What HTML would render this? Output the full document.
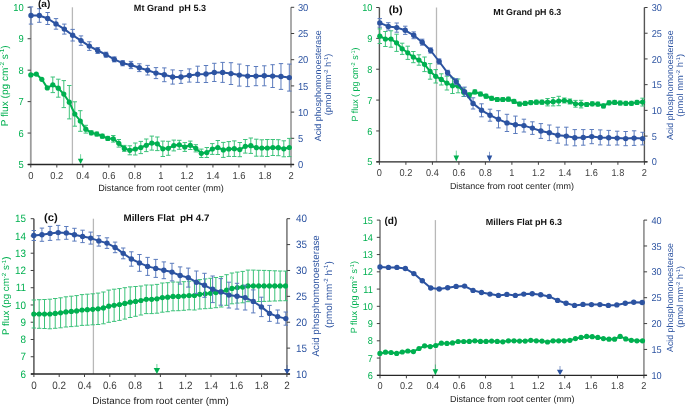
<!DOCTYPE html>
<html><head><meta charset="utf-8"><title>Figure</title>
<style>
html,body{margin:0;padding:0;background:#fff;}
body{width:685px;height:406px;overflow:hidden;}
svg{display:block;font-family:"Liberation Sans", sans-serif;text-rendering:geometricPrecision;will-change:transform;filter:blur(0.35px);}
</style></head>
<body>
<svg width="685" height="406" viewBox="0 0 685 406">
<rect width="685" height="406" fill="#fff"/>
<g id="pa">
<line x1="72.4" y1="7.3" x2="72.4" y2="164.5" stroke="#b8b8b8" stroke-width="1.3"/>
<line x1="30.8" y1="7.3" x2="30.8" y2="164.5" stroke="#9c9c9c" stroke-width="1.8"/>
<line x1="291" y1="7.3" x2="291" y2="164.5" stroke="#a2a2a2" stroke-width="1.8"/>
<line x1="27.6" y1="164.5" x2="30.8" y2="164.5" stroke="#404040" stroke-width="1"/>
<text transform="translate(23.8,168.1) scale(1,1.08)" text-anchor="end" font-size="9.4" fill="#00B050">5</text>
<line x1="27.6" y1="133.06" x2="30.8" y2="133.06" stroke="#404040" stroke-width="1"/>
<text transform="translate(23.8,136.66) scale(1,1.08)" text-anchor="end" font-size="9.4" fill="#00B050">6</text>
<line x1="27.6" y1="101.62" x2="30.8" y2="101.62" stroke="#404040" stroke-width="1"/>
<text transform="translate(23.8,105.22) scale(1,1.08)" text-anchor="end" font-size="9.4" fill="#00B050">7</text>
<line x1="27.6" y1="70.18" x2="30.8" y2="70.18" stroke="#404040" stroke-width="1"/>
<text transform="translate(23.8,73.78) scale(1,1.08)" text-anchor="end" font-size="9.4" fill="#00B050">8</text>
<line x1="27.6" y1="38.74" x2="30.8" y2="38.74" stroke="#404040" stroke-width="1"/>
<text transform="translate(23.8,42.34) scale(1,1.08)" text-anchor="end" font-size="9.4" fill="#00B050">9</text>
<line x1="27.6" y1="7.3" x2="30.8" y2="7.3" stroke="#404040" stroke-width="1"/>
<text transform="translate(23.8,10.9) scale(1,1.08)" text-anchor="end" font-size="9.4" fill="#00B050">10</text>
<line x1="291" y1="164.5" x2="294.2" y2="164.5" stroke="#404040" stroke-width="1"/>
<text transform="translate(297.9,168.1) scale(1,1.08)" font-size="9.4" fill="#2C53A1">0</text>
<line x1="291" y1="138.3" x2="294.2" y2="138.3" stroke="#404040" stroke-width="1"/>
<text transform="translate(297.9,141.9) scale(1,1.08)" font-size="9.4" fill="#2C53A1">5</text>
<line x1="291" y1="112.1" x2="294.2" y2="112.1" stroke="#404040" stroke-width="1"/>
<text transform="translate(297.9,115.7) scale(1,1.08)" font-size="9.4" fill="#2C53A1">10</text>
<line x1="291" y1="85.9" x2="294.2" y2="85.9" stroke="#404040" stroke-width="1"/>
<text transform="translate(297.9,89.5) scale(1,1.08)" font-size="9.4" fill="#2C53A1">15</text>
<line x1="291" y1="59.7" x2="294.2" y2="59.7" stroke="#404040" stroke-width="1"/>
<text transform="translate(297.9,63.3) scale(1,1.08)" font-size="9.4" fill="#2C53A1">20</text>
<line x1="291" y1="33.5" x2="294.2" y2="33.5" stroke="#404040" stroke-width="1"/>
<text transform="translate(297.9,37.1) scale(1,1.08)" font-size="9.4" fill="#2C53A1">25</text>
<line x1="291" y1="7.3" x2="294.2" y2="7.3" stroke="#404040" stroke-width="1"/>
<text transform="translate(297.9,10.9) scale(1,1.08)" font-size="9.4" fill="#2C53A1">30</text>
<line x1="27.8" y1="164.5" x2="294" y2="164.5" stroke="#262626" stroke-width="1.3"/>
<line x1="30.8" y1="164.5" x2="30.8" y2="167.5" stroke="#404040" stroke-width="1"/>
<text transform="translate(30.8,178.8) scale(1,1.08)" text-anchor="middle" font-size="9.4" fill="#3c3c3c">0</text>
<line x1="56.82" y1="164.5" x2="56.82" y2="167.5" stroke="#404040" stroke-width="1"/>
<text transform="translate(56.82,178.8) scale(1,1.08)" text-anchor="middle" font-size="9.4" fill="#3c3c3c">0.2</text>
<line x1="82.84" y1="164.5" x2="82.84" y2="167.5" stroke="#404040" stroke-width="1"/>
<text transform="translate(82.84,178.8) scale(1,1.08)" text-anchor="middle" font-size="9.4" fill="#3c3c3c">0.4</text>
<line x1="108.86" y1="164.5" x2="108.86" y2="167.5" stroke="#404040" stroke-width="1"/>
<text transform="translate(108.86,178.8) scale(1,1.08)" text-anchor="middle" font-size="9.4" fill="#3c3c3c">0.6</text>
<line x1="134.88" y1="164.5" x2="134.88" y2="167.5" stroke="#404040" stroke-width="1"/>
<text transform="translate(134.88,178.8) scale(1,1.08)" text-anchor="middle" font-size="9.4" fill="#3c3c3c">0.8</text>
<line x1="160.9" y1="164.5" x2="160.9" y2="167.5" stroke="#404040" stroke-width="1"/>
<text transform="translate(160.9,178.8) scale(1,1.08)" text-anchor="middle" font-size="9.4" fill="#3c3c3c">1</text>
<line x1="186.92" y1="164.5" x2="186.92" y2="167.5" stroke="#404040" stroke-width="1"/>
<text transform="translate(186.92,178.8) scale(1,1.08)" text-anchor="middle" font-size="9.4" fill="#3c3c3c">1.2</text>
<line x1="212.94" y1="164.5" x2="212.94" y2="167.5" stroke="#404040" stroke-width="1"/>
<text transform="translate(212.94,178.8) scale(1,1.08)" text-anchor="middle" font-size="9.4" fill="#3c3c3c">1.4</text>
<line x1="238.96" y1="164.5" x2="238.96" y2="167.5" stroke="#404040" stroke-width="1"/>
<text transform="translate(238.96,178.8) scale(1,1.08)" text-anchor="middle" font-size="9.4" fill="#3c3c3c">1.6</text>
<line x1="264.98" y1="164.5" x2="264.98" y2="167.5" stroke="#404040" stroke-width="1"/>
<text transform="translate(264.98,178.8) scale(1,1.08)" text-anchor="middle" font-size="9.4" fill="#3c3c3c">1.8</text>
<line x1="291" y1="164.5" x2="291" y2="167.5" stroke="#404040" stroke-width="1"/>
<text transform="translate(291,178.8) scale(1,1.08)" text-anchor="middle" font-size="9.4" fill="#3c3c3c">2</text>
<path d="M52.8 77V92.6M50.6 77H55M50.6 92.6H55" stroke="#3cc27a" stroke-width="1" fill="none"/>
<path d="M58.3 79.2V97.2M56.1 79.2H60.5M56.1 97.2H60.5" stroke="#3cc27a" stroke-width="1" fill="none"/>
<path d="M63.8 80.6V107.6M61.6 80.6H66M61.6 107.6H66" stroke="#3cc27a" stroke-width="1" fill="none"/>
<path d="M69.3 85.5V118.9M67.1 85.5H71.5M67.1 118.9H71.5" stroke="#3cc27a" stroke-width="1" fill="none"/>
<path d="M74.8 101.8V126.2M72.6 101.8H77M72.6 126.2H77" stroke="#3cc27a" stroke-width="1" fill="none"/>
<path d="M80.3 110.7V131.3M78.1 110.7H82.5M78.1 131.3H82.5" stroke="#3cc27a" stroke-width="1" fill="none"/>
<path d="M85.8 125.3V133.1M83.6 125.3H88M83.6 133.1H88" stroke="#3cc27a" stroke-width="1" fill="none"/>
<path d="M91.3 130.8V134.8M89.1 130.8H93.5M89.1 134.8H93.5" stroke="#3cc27a" stroke-width="1" fill="none"/>
<path d="M96.8 132V136M94.6 132H99M94.6 136H99" stroke="#3cc27a" stroke-width="1" fill="none"/>
<path d="M102.3 134.2V138.2M100.1 134.2H104.5M100.1 138.2H104.5" stroke="#3cc27a" stroke-width="1" fill="none"/>
<path d="M107.8 136.4V140.4M105.6 136.4H110M105.6 140.4H110" stroke="#3cc27a" stroke-width="1" fill="none"/>
<path d="M113.3 135.5V142.1M111.1 135.5H115.5M111.1 142.1H115.5" stroke="#3cc27a" stroke-width="1" fill="none"/>
<path d="M118.8 139.5V147.1M116.6 139.5H121M116.6 147.1H121" stroke="#3cc27a" stroke-width="1" fill="none"/>
<path d="M124.3 145.4V151.4M122.1 145.4H126.5M122.1 151.4H126.5" stroke="#3cc27a" stroke-width="1" fill="none"/>
<path d="M129.8 145.8V154.8M127.6 145.8H132M127.6 154.8H132" stroke="#3cc27a" stroke-width="1" fill="none"/>
<path d="M135.3 143V155M133.1 143H137.5M133.1 155H137.5" stroke="#3cc27a" stroke-width="1" fill="none"/>
<path d="M140.8 141.4V153.6M138.6 141.4H143M138.6 153.6H143" stroke="#3cc27a" stroke-width="1" fill="none"/>
<path d="M146.3 139V151.6M144.1 139H148.5M144.1 151.6H148.5" stroke="#3cc27a" stroke-width="1" fill="none"/>
<path d="M151.8 136.1V150.1M149.6 136.1H154M149.6 150.1H154" stroke="#3cc27a" stroke-width="1" fill="none"/>
<path d="M157.3 137V150.6M155.1 137H159.5M155.1 150.6H159.5" stroke="#3cc27a" stroke-width="1" fill="none"/>
<path d="M162.8 141.1V156.5M160.6 141.1H165M160.6 156.5H165" stroke="#3cc27a" stroke-width="1" fill="none"/>
<path d="M168.3 141.3V155.3M166.1 141.3H170.5M166.1 155.3H170.5" stroke="#3cc27a" stroke-width="1" fill="none"/>
<path d="M173.8 140.1V150.9M171.6 140.1H176M171.6 150.9H176" stroke="#3cc27a" stroke-width="1" fill="none"/>
<path d="M179.3 140.3V149.3M177.1 140.3H181.5M177.1 149.3H181.5" stroke="#3cc27a" stroke-width="1" fill="none"/>
<path d="M184.8 142.6V151.4M182.6 142.6H187M182.6 151.4H187" stroke="#3cc27a" stroke-width="1" fill="none"/>
<path d="M190.3 141.1V149.5M188.1 141.1H192.5M188.1 149.5H192.5" stroke="#3cc27a" stroke-width="1" fill="none"/>
<path d="M195.8 144.7V151.9M193.6 144.7H198M193.6 151.9H198" stroke="#3cc27a" stroke-width="1" fill="none"/>
<path d="M201.3 149.1V157.5M199.1 149.1H203.5M199.1 157.5H203.5" stroke="#3cc27a" stroke-width="1" fill="none"/>
<path d="M206.8 147.5V157.5M204.6 147.5H209M204.6 157.5H209" stroke="#3cc27a" stroke-width="1" fill="none"/>
<path d="M212.3 143.6V154.4M210.1 143.6H214.5M210.1 154.4H214.5" stroke="#3cc27a" stroke-width="1" fill="none"/>
<path d="M217.8 140.5V154.5M215.6 140.5H220M215.6 154.5H220" stroke="#3cc27a" stroke-width="1" fill="none"/>
<path d="M223.3 142.4V157.4M221.1 142.4H225.5M221.1 157.4H225.5" stroke="#3cc27a" stroke-width="1" fill="none"/>
<path d="M228.8 141.6V156.4M226.6 141.6H231M226.6 156.4H231" stroke="#3cc27a" stroke-width="1" fill="none"/>
<path d="M234.3 140.9V156.5M232.1 140.9H236.5M232.1 156.5H236.5" stroke="#3cc27a" stroke-width="1" fill="none"/>
<path d="M239.8 142.5V156.7M237.6 142.5H242M237.6 156.7H242" stroke="#3cc27a" stroke-width="1" fill="none"/>
<path d="M245.3 139.5V153.1M243.1 139.5H247.5M243.1 153.1H247.5" stroke="#3cc27a" stroke-width="1" fill="none"/>
<path d="M250.8 138V153.4M248.6 138H253M248.6 153.4H253" stroke="#3cc27a" stroke-width="1" fill="none"/>
<path d="M256.3 139.2V156.2M254.1 139.2H258.5M254.1 156.2H258.5" stroke="#3cc27a" stroke-width="1" fill="none"/>
<path d="M261.8 139.8V156.2M259.6 139.8H264M259.6 156.2H264" stroke="#3cc27a" stroke-width="1" fill="none"/>
<path d="M267.3 139.5V156.5M265.1 139.5H269.5M265.1 156.5H269.5" stroke="#3cc27a" stroke-width="1" fill="none"/>
<path d="M272.8 139.5V155.5M270.6 139.5H275M270.6 155.5H275" stroke="#3cc27a" stroke-width="1" fill="none"/>
<path d="M278.3 139.7V155.7M276.1 139.7H280.5M276.1 155.7H280.5" stroke="#3cc27a" stroke-width="1" fill="none"/>
<path d="M283.8 140.8V156.8M281.6 140.8H286M281.6 156.8H286" stroke="#3cc27a" stroke-width="1" fill="none"/>
<path d="M289.3 138.4V156.6M287.1 138.4H291.5M287.1 156.6H291.5" stroke="#3cc27a" stroke-width="1" fill="none"/>
<polyline points="30.8,74.9 36.3,74.1 41.8,79.3 47.3,87.9 52.8,84.8 58.3,88.2 63.8,94.1 69.3,102.2 74.8,114 80.3,121 85.8,129.2 91.3,132.8 96.8,134 102.3,136.2 107.8,138.4 113.3,138.8 118.8,143.3 124.3,148.4 129.8,150.3 135.3,149 140.8,147.5 146.3,145.3 151.8,143.1 157.3,143.8 162.8,148.8 168.3,148.3 173.8,145.5 179.3,144.8 184.8,147 190.3,145.3 195.8,148.3 201.3,153.3 206.8,152.5 212.3,149 217.8,147.5 223.3,149.9 228.8,149 234.3,148.7 239.8,149.6 245.3,146.3 250.8,145.7 256.3,147.7 261.8,148 267.3,148 272.8,147.5 278.3,147.7 283.8,148.8 289.3,147.5" fill="none" stroke="#00B050" stroke-width="2" stroke-linejoin="round"/>
<circle cx="30.8" cy="74.9" r="2.6" fill="#00B050"/>
<circle cx="36.3" cy="74.1" r="2.6" fill="#00B050"/>
<circle cx="41.8" cy="79.3" r="2.6" fill="#00B050"/>
<circle cx="47.3" cy="87.9" r="2.6" fill="#00B050"/>
<circle cx="52.8" cy="84.8" r="2.6" fill="#00B050"/>
<circle cx="58.3" cy="88.2" r="2.6" fill="#00B050"/>
<circle cx="63.8" cy="94.1" r="2.6" fill="#00B050"/>
<circle cx="69.3" cy="102.2" r="2.6" fill="#00B050"/>
<circle cx="74.8" cy="114" r="2.6" fill="#00B050"/>
<circle cx="80.3" cy="121" r="2.6" fill="#00B050"/>
<circle cx="85.8" cy="129.2" r="2.6" fill="#00B050"/>
<circle cx="91.3" cy="132.8" r="2.6" fill="#00B050"/>
<circle cx="96.8" cy="134" r="2.6" fill="#00B050"/>
<circle cx="102.3" cy="136.2" r="2.6" fill="#00B050"/>
<circle cx="107.8" cy="138.4" r="2.6" fill="#00B050"/>
<circle cx="113.3" cy="138.8" r="2.6" fill="#00B050"/>
<circle cx="118.8" cy="143.3" r="2.6" fill="#00B050"/>
<circle cx="124.3" cy="148.4" r="2.6" fill="#00B050"/>
<circle cx="129.8" cy="150.3" r="2.6" fill="#00B050"/>
<circle cx="135.3" cy="149" r="2.6" fill="#00B050"/>
<circle cx="140.8" cy="147.5" r="2.6" fill="#00B050"/>
<circle cx="146.3" cy="145.3" r="2.6" fill="#00B050"/>
<circle cx="151.8" cy="143.1" r="2.6" fill="#00B050"/>
<circle cx="157.3" cy="143.8" r="2.6" fill="#00B050"/>
<circle cx="162.8" cy="148.8" r="2.6" fill="#00B050"/>
<circle cx="168.3" cy="148.3" r="2.6" fill="#00B050"/>
<circle cx="173.8" cy="145.5" r="2.6" fill="#00B050"/>
<circle cx="179.3" cy="144.8" r="2.6" fill="#00B050"/>
<circle cx="184.8" cy="147" r="2.6" fill="#00B050"/>
<circle cx="190.3" cy="145.3" r="2.6" fill="#00B050"/>
<circle cx="195.8" cy="148.3" r="2.6" fill="#00B050"/>
<circle cx="201.3" cy="153.3" r="2.6" fill="#00B050"/>
<circle cx="206.8" cy="152.5" r="2.6" fill="#00B050"/>
<circle cx="212.3" cy="149" r="2.6" fill="#00B050"/>
<circle cx="217.8" cy="147.5" r="2.6" fill="#00B050"/>
<circle cx="223.3" cy="149.9" r="2.6" fill="#00B050"/>
<circle cx="228.8" cy="149" r="2.6" fill="#00B050"/>
<circle cx="234.3" cy="148.7" r="2.6" fill="#00B050"/>
<circle cx="239.8" cy="149.6" r="2.6" fill="#00B050"/>
<circle cx="245.3" cy="146.3" r="2.6" fill="#00B050"/>
<circle cx="250.8" cy="145.7" r="2.6" fill="#00B050"/>
<circle cx="256.3" cy="147.7" r="2.6" fill="#00B050"/>
<circle cx="261.8" cy="148" r="2.6" fill="#00B050"/>
<circle cx="267.3" cy="148" r="2.6" fill="#00B050"/>
<circle cx="272.8" cy="147.5" r="2.6" fill="#00B050"/>
<circle cx="278.3" cy="147.7" r="2.6" fill="#00B050"/>
<circle cx="283.8" cy="148.8" r="2.6" fill="#00B050"/>
<circle cx="289.3" cy="147.5" r="2.6" fill="#00B050"/>
<path d="M31 6.9V24.1M28.8 6.9H33.2M28.8 24.1H33.2" stroke="#5b7bbd" stroke-width="1" fill="none"/>
<path d="M39.33 8.7V22.3M37.13 8.7H41.53M37.13 22.3H41.53" stroke="#5b7bbd" stroke-width="1" fill="none"/>
<path d="M47.66 12.5V24.5M45.46 12.5H49.86M45.46 24.5H49.86" stroke="#5b7bbd" stroke-width="1" fill="none"/>
<path d="M56 18.6V29.2M53.8 18.6H58.2M53.8 29.2H58.2" stroke="#5b7bbd" stroke-width="1" fill="none"/>
<path d="M64.33 24.1V34.1M62.13 24.1H66.53M62.13 34.1H66.53" stroke="#5b7bbd" stroke-width="1" fill="none"/>
<path d="M72.66 29.4V41M70.46 29.4H74.86M70.46 41H74.86" stroke="#5b7bbd" stroke-width="1" fill="none"/>
<path d="M80.99 35.9V45.3M78.79 35.9H83.19M78.79 45.3H83.19" stroke="#5b7bbd" stroke-width="1" fill="none"/>
<path d="M89.33 41.8V50.4M87.13 41.8H91.53M87.13 50.4H91.53" stroke="#5b7bbd" stroke-width="1" fill="none"/>
<path d="M97.66 47.5V53.5M95.46 47.5H99.86M95.46 53.5H99.86" stroke="#5b7bbd" stroke-width="1" fill="none"/>
<path d="M105.99 52.2V57.2M103.79 52.2H108.19M103.79 57.2H108.19" stroke="#5b7bbd" stroke-width="1" fill="none"/>
<path d="M114.32 56.9V61.9M112.12 56.9H116.52M112.12 61.9H116.52" stroke="#5b7bbd" stroke-width="1" fill="none"/>
<path d="M122.65 60.6V65.8M120.45 60.6H124.85M120.45 65.8H124.85" stroke="#5b7bbd" stroke-width="1" fill="none"/>
<path d="M130.99 61.4V68.6M128.79 61.4H133.19M128.79 68.6H133.19" stroke="#5b7bbd" stroke-width="1" fill="none"/>
<path d="M139.32 63.8V71.6M137.12 63.8H141.52M137.12 71.6H141.52" stroke="#5b7bbd" stroke-width="1" fill="none"/>
<path d="M147.65 65.4V75M145.45 65.4H149.85M145.45 75H149.85" stroke="#5b7bbd" stroke-width="1" fill="none"/>
<path d="M155.98 67.6V78.6M153.78 67.6H158.18M153.78 78.6H158.18" stroke="#5b7bbd" stroke-width="1" fill="none"/>
<path d="M164.32 67.9V81.7M162.12 67.9H166.52M162.12 81.7H166.52" stroke="#5b7bbd" stroke-width="1" fill="none"/>
<path d="M172.65 69.9V84.1M170.45 69.9H174.85M170.45 84.1H174.85" stroke="#5b7bbd" stroke-width="1" fill="none"/>
<path d="M180.98 70.6V83.4M178.78 70.6H183.18M178.78 83.4H183.18" stroke="#5b7bbd" stroke-width="1" fill="none"/>
<path d="M189.31 68.9V82.1M187.11 68.9H191.51M187.11 82.1H191.51" stroke="#5b7bbd" stroke-width="1" fill="none"/>
<path d="M197.65 66.2V82.4M195.45 66.2H199.85M195.45 82.4H199.85" stroke="#5b7bbd" stroke-width="1" fill="none"/>
<path d="M205.98 65.5V82.5M203.78 65.5H208.18M203.78 82.5H208.18" stroke="#5b7bbd" stroke-width="1" fill="none"/>
<path d="M214.31 63.3V81.5M212.11 63.3H216.51M212.11 81.5H216.51" stroke="#5b7bbd" stroke-width="1" fill="none"/>
<path d="M222.64 62.4V82.4M220.44 62.4H224.84M220.44 82.4H224.84" stroke="#5b7bbd" stroke-width="1" fill="none"/>
<path d="M230.97 62.7V84.5M228.77 62.7H233.17M228.77 84.5H233.17" stroke="#5b7bbd" stroke-width="1" fill="none"/>
<path d="M239.31 64.1V86.1M237.11 64.1H241.51M237.11 86.1H241.51" stroke="#5b7bbd" stroke-width="1" fill="none"/>
<path d="M247.64 65.6V86.6M245.44 65.6H249.84M245.44 86.6H249.84" stroke="#5b7bbd" stroke-width="1" fill="none"/>
<path d="M255.97 66.5V85.7M253.77 66.5H258.17M253.77 85.7H258.17" stroke="#5b7bbd" stroke-width="1" fill="none"/>
<path d="M264.3 65.8V85.8M262.1 65.8H266.5M262.1 85.8H266.5" stroke="#5b7bbd" stroke-width="1" fill="none"/>
<path d="M272.64 64.7V87.5M270.44 64.7H274.84M270.44 87.5H274.84" stroke="#5b7bbd" stroke-width="1" fill="none"/>
<path d="M280.97 63.6V89.4M278.77 63.6H283.17M278.77 89.4H283.17" stroke="#5b7bbd" stroke-width="1" fill="none"/>
<path d="M289.3 64.1V91.1M287.1 64.1H291.5M287.1 91.1H291.5" stroke="#5b7bbd" stroke-width="1" fill="none"/>
<polyline points="31,15.5 39.33,15.5 47.66,18.5 56,23.9 64.33,29.1 72.66,35.2 80.99,40.6 89.33,46.1 97.66,50.5 105.99,54.7 114.32,59.4 122.65,63.2 130.99,65 139.32,67.7 147.65,70.2 155.98,73.1 164.32,74.8 172.65,77 180.98,77 189.31,75.5 197.65,74.3 205.98,74 214.31,72.4 222.64,72.4 230.97,73.6 239.31,75.1 247.64,76.1 255.97,76.1 264.3,75.8 272.64,76.1 280.97,76.5 289.3,77.6" fill="none" stroke="#2C53A1" stroke-width="2" stroke-linejoin="round"/>
<circle cx="31" cy="15.5" r="2.7" fill="#2C53A1"/>
<circle cx="39.33" cy="15.5" r="2.7" fill="#2C53A1"/>
<circle cx="47.66" cy="18.5" r="2.7" fill="#2C53A1"/>
<circle cx="56" cy="23.9" r="2.7" fill="#2C53A1"/>
<circle cx="64.33" cy="29.1" r="2.7" fill="#2C53A1"/>
<circle cx="72.66" cy="35.2" r="2.7" fill="#2C53A1"/>
<circle cx="80.99" cy="40.6" r="2.7" fill="#2C53A1"/>
<circle cx="89.33" cy="46.1" r="2.7" fill="#2C53A1"/>
<circle cx="97.66" cy="50.5" r="2.7" fill="#2C53A1"/>
<circle cx="105.99" cy="54.7" r="2.7" fill="#2C53A1"/>
<circle cx="114.32" cy="59.4" r="2.7" fill="#2C53A1"/>
<circle cx="122.65" cy="63.2" r="2.7" fill="#2C53A1"/>
<circle cx="130.99" cy="65" r="2.7" fill="#2C53A1"/>
<circle cx="139.32" cy="67.7" r="2.7" fill="#2C53A1"/>
<circle cx="147.65" cy="70.2" r="2.7" fill="#2C53A1"/>
<circle cx="155.98" cy="73.1" r="2.7" fill="#2C53A1"/>
<circle cx="164.32" cy="74.8" r="2.7" fill="#2C53A1"/>
<circle cx="172.65" cy="77" r="2.7" fill="#2C53A1"/>
<circle cx="180.98" cy="77" r="2.7" fill="#2C53A1"/>
<circle cx="189.31" cy="75.5" r="2.7" fill="#2C53A1"/>
<circle cx="197.65" cy="74.3" r="2.7" fill="#2C53A1"/>
<circle cx="205.98" cy="74" r="2.7" fill="#2C53A1"/>
<circle cx="214.31" cy="72.4" r="2.7" fill="#2C53A1"/>
<circle cx="222.64" cy="72.4" r="2.7" fill="#2C53A1"/>
<circle cx="230.97" cy="73.6" r="2.7" fill="#2C53A1"/>
<circle cx="239.31" cy="75.1" r="2.7" fill="#2C53A1"/>
<circle cx="247.64" cy="76.1" r="2.7" fill="#2C53A1"/>
<circle cx="255.97" cy="76.1" r="2.7" fill="#2C53A1"/>
<circle cx="264.3" cy="75.8" r="2.7" fill="#2C53A1"/>
<circle cx="272.64" cy="76.1" r="2.7" fill="#2C53A1"/>
<circle cx="280.97" cy="76.5" r="2.7" fill="#2C53A1"/>
<circle cx="289.3" cy="77.6" r="2.7" fill="#2C53A1"/>
<line x1="80.6" y1="154.2" x2="80.6" y2="159.3" stroke="#00B050" stroke-width="1" opacity="0.55"/>
<path d="M77.85 158.8H83.35L80.6 164.1Z" fill="#00B050"/>
<text x="37.9" y="6.9" font-size="10.0" font-weight="bold" fill="#111" textLength="12.4" lengthAdjust="spacingAndGlyphs">(a)</text>
<text x="133.8" y="11" font-size="9.0" font-weight="bold" fill="#111" textLength="72.3" lengthAdjust="spacingAndGlyphs">Mt Grand  pH 5.3</text>
<text x="98.3" y="191.4" font-size="9.0" fill="#222" textLength="125.6" lengthAdjust="spacingAndGlyphs">Distance from root center (mm)</text>
<text transform="translate(8.2,85.8) rotate(-90)" text-anchor="middle" font-size="10.0" fill="#00B050" textLength="81.1" lengthAdjust="spacingAndGlyphs">P flux (pg cm<tspan font-size="6.2" dy="-3.8">-2</tspan><tspan dy="3.8"> s</tspan><tspan font-size="6.2" dy="-3.8">-1</tspan><tspan dy="3.8">)</tspan></text>
<text transform="translate(321.2,85.75) rotate(-90)" text-anchor="middle" font-size="9.0" fill="#2C53A1" textLength="111" lengthAdjust="spacingAndGlyphs">Acid phosphomonoesterase</text>
<text transform="translate(331.3,84.5) rotate(-90)" text-anchor="middle" font-size="9.0" fill="#2C53A1" textLength="61.7" lengthAdjust="spacingAndGlyphs">(pmol mm<tspan font-size="5.58" dy="-3.42">-2</tspan><tspan dy="3.42"> h</tspan><tspan font-size="5.58" dy="-3.42">-1</tspan><tspan dy="3.42">)</tspan></text>
</g>
<g id="pb">
<line x1="436.5" y1="7.5" x2="436.5" y2="161.8" stroke="#b8b8b8" stroke-width="1.3"/>
<line x1="379.4" y1="7.5" x2="379.4" y2="161.8" stroke="#555555" stroke-width="1.4"/>
<line x1="644.4" y1="7.5" x2="644.4" y2="161.8" stroke="#555555" stroke-width="1.4"/>
<line x1="376.2" y1="161.8" x2="379.4" y2="161.8" stroke="#404040" stroke-width="1"/>
<text transform="translate(372.4,165.4) scale(1,1.08)" text-anchor="end" font-size="9.2" fill="#00B050">5</text>
<line x1="376.2" y1="130.94" x2="379.4" y2="130.94" stroke="#404040" stroke-width="1"/>
<text transform="translate(372.4,134.54) scale(1,1.08)" text-anchor="end" font-size="9.2" fill="#00B050">6</text>
<line x1="376.2" y1="100.08" x2="379.4" y2="100.08" stroke="#404040" stroke-width="1"/>
<text transform="translate(372.4,103.68) scale(1,1.08)" text-anchor="end" font-size="9.2" fill="#00B050">7</text>
<line x1="376.2" y1="69.22" x2="379.4" y2="69.22" stroke="#404040" stroke-width="1"/>
<text transform="translate(372.4,72.82) scale(1,1.08)" text-anchor="end" font-size="9.2" fill="#00B050">8</text>
<line x1="376.2" y1="38.36" x2="379.4" y2="38.36" stroke="#404040" stroke-width="1"/>
<text transform="translate(372.4,41.96) scale(1,1.08)" text-anchor="end" font-size="9.2" fill="#00B050">9</text>
<line x1="376.2" y1="7.5" x2="379.4" y2="7.5" stroke="#404040" stroke-width="1"/>
<text transform="translate(372.4,11.1) scale(1,1.08)" text-anchor="end" font-size="9.2" fill="#00B050">10</text>
<line x1="644.4" y1="161.8" x2="647.6" y2="161.8" stroke="#404040" stroke-width="1"/>
<text transform="translate(651.7,165.4) scale(1,1.08)" font-size="9.2" fill="#2C53A1">0</text>
<line x1="644.4" y1="136.08" x2="647.6" y2="136.08" stroke="#404040" stroke-width="1"/>
<text transform="translate(651.7,139.68) scale(1,1.08)" font-size="9.2" fill="#2C53A1">5</text>
<line x1="644.4" y1="110.37" x2="647.6" y2="110.37" stroke="#404040" stroke-width="1"/>
<text transform="translate(651.7,113.97) scale(1,1.08)" font-size="9.2" fill="#2C53A1">10</text>
<line x1="644.4" y1="84.65" x2="647.6" y2="84.65" stroke="#404040" stroke-width="1"/>
<text transform="translate(651.7,88.25) scale(1,1.08)" font-size="9.2" fill="#2C53A1">15</text>
<line x1="644.4" y1="58.93" x2="647.6" y2="58.93" stroke="#404040" stroke-width="1"/>
<text transform="translate(651.7,62.53) scale(1,1.08)" font-size="9.2" fill="#2C53A1">20</text>
<line x1="644.4" y1="33.22" x2="647.6" y2="33.22" stroke="#404040" stroke-width="1"/>
<text transform="translate(651.7,36.82) scale(1,1.08)" font-size="9.2" fill="#2C53A1">25</text>
<line x1="644.4" y1="7.5" x2="647.6" y2="7.5" stroke="#404040" stroke-width="1"/>
<text transform="translate(651.7,11.1) scale(1,1.08)" font-size="9.2" fill="#2C53A1">30</text>
<line x1="376.4" y1="161.8" x2="647.4" y2="161.8" stroke="#262626" stroke-width="1.3"/>
<line x1="379.4" y1="161.8" x2="379.4" y2="164.8" stroke="#404040" stroke-width="1"/>
<text transform="translate(379.4,176.2) scale(1,1.08)" text-anchor="middle" font-size="9.2" fill="#3c3c3c">0</text>
<line x1="405.9" y1="161.8" x2="405.9" y2="164.8" stroke="#404040" stroke-width="1"/>
<text transform="translate(405.9,176.2) scale(1,1.08)" text-anchor="middle" font-size="9.2" fill="#3c3c3c">0.2</text>
<line x1="432.4" y1="161.8" x2="432.4" y2="164.8" stroke="#404040" stroke-width="1"/>
<text transform="translate(432.4,176.2) scale(1,1.08)" text-anchor="middle" font-size="9.2" fill="#3c3c3c">0.4</text>
<line x1="458.9" y1="161.8" x2="458.9" y2="164.8" stroke="#404040" stroke-width="1"/>
<text transform="translate(458.9,176.2) scale(1,1.08)" text-anchor="middle" font-size="9.2" fill="#3c3c3c">0.6</text>
<line x1="485.4" y1="161.8" x2="485.4" y2="164.8" stroke="#404040" stroke-width="1"/>
<text transform="translate(485.4,176.2) scale(1,1.08)" text-anchor="middle" font-size="9.2" fill="#3c3c3c">0.8</text>
<line x1="511.9" y1="161.8" x2="511.9" y2="164.8" stroke="#404040" stroke-width="1"/>
<text transform="translate(511.9,176.2) scale(1,1.08)" text-anchor="middle" font-size="9.2" fill="#3c3c3c">1</text>
<line x1="538.4" y1="161.8" x2="538.4" y2="164.8" stroke="#404040" stroke-width="1"/>
<text transform="translate(538.4,176.2) scale(1,1.08)" text-anchor="middle" font-size="9.2" fill="#3c3c3c">1.2</text>
<line x1="564.9" y1="161.8" x2="564.9" y2="164.8" stroke="#404040" stroke-width="1"/>
<text transform="translate(564.9,176.2) scale(1,1.08)" text-anchor="middle" font-size="9.2" fill="#3c3c3c">1.4</text>
<line x1="591.4" y1="161.8" x2="591.4" y2="164.8" stroke="#404040" stroke-width="1"/>
<text transform="translate(591.4,176.2) scale(1,1.08)" text-anchor="middle" font-size="9.2" fill="#3c3c3c">1.6</text>
<line x1="617.9" y1="161.8" x2="617.9" y2="164.8" stroke="#404040" stroke-width="1"/>
<text transform="translate(617.9,176.2) scale(1,1.08)" text-anchor="middle" font-size="9.2" fill="#3c3c3c">1.8</text>
<line x1="644.4" y1="161.8" x2="644.4" y2="164.8" stroke="#404040" stroke-width="1"/>
<text transform="translate(644.4,176.2) scale(1,1.08)" text-anchor="middle" font-size="9.2" fill="#3c3c3c">2</text>
<path d="M379.8 28.9V43.5M377.6 28.9H382M377.6 43.5H382" stroke="#3cc27a" stroke-width="1" fill="none"/>
<path d="M385.39 31.5V46.5M383.19 31.5H387.59M383.19 46.5H387.59" stroke="#3cc27a" stroke-width="1" fill="none"/>
<path d="M390.98 30.8V47.2M388.78 30.8H393.18M388.78 47.2H393.18" stroke="#3cc27a" stroke-width="1" fill="none"/>
<path d="M396.57 34.2V51.4M394.37 34.2H398.77M394.37 51.4H398.77" stroke="#3cc27a" stroke-width="1" fill="none"/>
<path d="M402.17 43.2V54.4M399.97 43.2H404.37M399.97 54.4H404.37" stroke="#3cc27a" stroke-width="1" fill="none"/>
<path d="M407.76 46.2V59.4M405.56 46.2H409.96M405.56 59.4H409.96" stroke="#3cc27a" stroke-width="1" fill="none"/>
<path d="M413.35 51.5V62.7M411.15 51.5H415.55M411.15 62.7H415.55" stroke="#3cc27a" stroke-width="1" fill="none"/>
<path d="M418.94 54.8V65.2M416.74 54.8H421.14M416.74 65.2H421.14" stroke="#3cc27a" stroke-width="1" fill="none"/>
<path d="M424.53 57V71.6M422.33 57H426.73M422.33 71.6H426.73" stroke="#3cc27a" stroke-width="1" fill="none"/>
<path d="M430.12 63.6V79.2M427.92 63.6H432.32M427.92 79.2H432.32" stroke="#3cc27a" stroke-width="1" fill="none"/>
<path d="M435.71 69.6V83M433.51 69.6H437.91M433.51 83H437.91" stroke="#3cc27a" stroke-width="1" fill="none"/>
<path d="M441.31 73.8V85M439.11 73.8H443.51M439.11 85H443.51" stroke="#3cc27a" stroke-width="1" fill="none"/>
<path d="M446.9 76.2V90M444.7 76.2H449.1M444.7 90H449.1" stroke="#3cc27a" stroke-width="1" fill="none"/>
<path d="M452.49 77.9V93.5M450.29 77.9H454.69M450.29 93.5H454.69" stroke="#3cc27a" stroke-width="1" fill="none"/>
<path d="M458.08 79V92.8M455.88 79H460.28M455.88 92.8H460.28" stroke="#3cc27a" stroke-width="1" fill="none"/>
<path d="M463.67 87.9V96.5M461.47 87.9H465.87M461.47 96.5H465.87" stroke="#3cc27a" stroke-width="1" fill="none"/>
<path d="M469.26 92.7V97.7M467.06 92.7H471.46M467.06 97.7H471.46" stroke="#3cc27a" stroke-width="1" fill="none"/>
<path d="M474.86 89.9V93.9M472.66 89.9H477.06M472.66 93.9H477.06" stroke="#3cc27a" stroke-width="1" fill="none"/>
<path d="M480.45 92V96M478.25 92H482.65M478.25 96H482.65" stroke="#3cc27a" stroke-width="1" fill="none"/>
<path d="M486.04 94.2V98.2M483.84 94.2H488.24M483.84 98.2H488.24" stroke="#3cc27a" stroke-width="1" fill="none"/>
<path d="M491.63 96.3V100.3M489.43 96.3H493.83M489.43 100.3H493.83" stroke="#3cc27a" stroke-width="1" fill="none"/>
<path d="M497.22 97.5V101.5M495.02 97.5H499.42M495.02 101.5H499.42" stroke="#3cc27a" stroke-width="1" fill="none"/>
<path d="M502.81 97.5V101.5M500.61 97.5H505.01M500.61 101.5H505.01" stroke="#3cc27a" stroke-width="1" fill="none"/>
<path d="M508.4 97.2V101.2M506.2 97.2H510.6M506.2 101.2H510.6" stroke="#3cc27a" stroke-width="1" fill="none"/>
<path d="M514 99.4V103.4M511.8 99.4H516.2M511.8 103.4H516.2" stroke="#3cc27a" stroke-width="1" fill="none"/>
<path d="M519.59 102V106M517.39 102H521.79M517.39 106H521.79" stroke="#3cc27a" stroke-width="1" fill="none"/>
<path d="M525.18 101.4V105.4M522.98 101.4H527.38M522.98 105.4H527.38" stroke="#3cc27a" stroke-width="1" fill="none"/>
<path d="M530.77 100.6V104.6M528.57 100.6H532.97M528.57 104.6H532.97" stroke="#3cc27a" stroke-width="1" fill="none"/>
<path d="M536.36 100.2V104.2M534.16 100.2H538.56M534.16 104.2H538.56" stroke="#3cc27a" stroke-width="1" fill="none"/>
<path d="M541.95 100.2V104.2M539.75 100.2H544.15M539.75 104.2H544.15" stroke="#3cc27a" stroke-width="1" fill="none"/>
<path d="M547.54 98.5V105.9M545.34 98.5H549.74M545.34 105.9H549.74" stroke="#3cc27a" stroke-width="1" fill="none"/>
<path d="M553.14 97.5V105.9M550.94 97.5H555.34M550.94 105.9H555.34" stroke="#3cc27a" stroke-width="1" fill="none"/>
<path d="M558.73 96.3V105.7M556.53 96.3H560.93M556.53 105.7H560.93" stroke="#3cc27a" stroke-width="1" fill="none"/>
<path d="M564.32 98V103M562.12 98H566.52M562.12 103H566.52" stroke="#3cc27a" stroke-width="1" fill="none"/>
<path d="M569.91 99V104M567.71 99H572.11M567.71 104H572.11" stroke="#3cc27a" stroke-width="1" fill="none"/>
<path d="M575.5 100.4V107.2M573.3 100.4H577.7M573.3 107.2H577.7" stroke="#3cc27a" stroke-width="1" fill="none"/>
<path d="M581.09 100.3V107.9M578.89 100.3H583.29M578.89 107.9H583.29" stroke="#3cc27a" stroke-width="1" fill="none"/>
<path d="M586.69 102.5V106.5M584.49 102.5H588.89M584.49 106.5H588.89" stroke="#3cc27a" stroke-width="1" fill="none"/>
<path d="M592.28 101.8V105.8M590.08 101.8H594.48M590.08 105.8H594.48" stroke="#3cc27a" stroke-width="1" fill="none"/>
<path d="M597.87 102.1V106.1M595.67 102.1H600.07M595.67 106.1H600.07" stroke="#3cc27a" stroke-width="1" fill="none"/>
<path d="M603.46 103.9V107.9M601.26 103.9H605.66M601.26 107.9H605.66" stroke="#3cc27a" stroke-width="1" fill="none"/>
<path d="M609.05 100.8V104.8M606.85 100.8H611.25M606.85 104.8H611.25" stroke="#3cc27a" stroke-width="1" fill="none"/>
<path d="M614.64 100.4V104.4M612.44 100.4H616.84M612.44 104.4H616.84" stroke="#3cc27a" stroke-width="1" fill="none"/>
<path d="M620.23 101V105M618.03 101H622.43M618.03 105H622.43" stroke="#3cc27a" stroke-width="1" fill="none"/>
<path d="M625.83 101.3V105.3M623.63 101.3H628.03M623.63 105.3H628.03" stroke="#3cc27a" stroke-width="1" fill="none"/>
<path d="M631.42 101.3V105.3M629.22 101.3H633.62M629.22 105.3H633.62" stroke="#3cc27a" stroke-width="1" fill="none"/>
<path d="M637.01 100.4V104.4M634.81 100.4H639.21M634.81 104.4H639.21" stroke="#3cc27a" stroke-width="1" fill="none"/>
<path d="M642.6 98.2V106M640.4 98.2H644.8M640.4 106H644.8" stroke="#3cc27a" stroke-width="1" fill="none"/>
<polyline points="379.8,36.2 385.39,39 390.98,39 396.57,42.8 402.17,48.8 407.76,52.8 413.35,57.1 418.94,60 424.53,64.3 430.12,71.4 435.71,76.3 441.31,79.4 446.9,83.1 452.49,85.7 458.08,85.9 463.67,92.2 469.26,95.2 474.86,91.9 480.45,94 486.04,96.2 491.63,98.3 497.22,99.5 502.81,99.5 508.4,99.2 514,101.4 519.59,104 525.18,103.4 530.77,102.6 536.36,102.2 541.95,102.2 547.54,102.2 553.14,101.7 558.73,101 564.32,100.5 569.91,101.5 575.5,103.8 581.09,104.1 586.69,104.5 592.28,103.8 597.87,104.1 603.46,105.9 609.05,102.8 614.64,102.4 620.23,103 625.83,103.3 631.42,103.3 637.01,102.4 642.6,102.1" fill="none" stroke="#00B050" stroke-width="2" stroke-linejoin="round"/>
<circle cx="379.8" cy="36.2" r="2.6" fill="#00B050"/>
<circle cx="385.39" cy="39" r="2.6" fill="#00B050"/>
<circle cx="390.98" cy="39" r="2.6" fill="#00B050"/>
<circle cx="396.57" cy="42.8" r="2.6" fill="#00B050"/>
<circle cx="402.17" cy="48.8" r="2.6" fill="#00B050"/>
<circle cx="407.76" cy="52.8" r="2.6" fill="#00B050"/>
<circle cx="413.35" cy="57.1" r="2.6" fill="#00B050"/>
<circle cx="418.94" cy="60" r="2.6" fill="#00B050"/>
<circle cx="424.53" cy="64.3" r="2.6" fill="#00B050"/>
<circle cx="430.12" cy="71.4" r="2.6" fill="#00B050"/>
<circle cx="435.71" cy="76.3" r="2.6" fill="#00B050"/>
<circle cx="441.31" cy="79.4" r="2.6" fill="#00B050"/>
<circle cx="446.9" cy="83.1" r="2.6" fill="#00B050"/>
<circle cx="452.49" cy="85.7" r="2.6" fill="#00B050"/>
<circle cx="458.08" cy="85.9" r="2.6" fill="#00B050"/>
<circle cx="463.67" cy="92.2" r="2.6" fill="#00B050"/>
<circle cx="469.26" cy="95.2" r="2.6" fill="#00B050"/>
<circle cx="474.86" cy="91.9" r="2.6" fill="#00B050"/>
<circle cx="480.45" cy="94" r="2.6" fill="#00B050"/>
<circle cx="486.04" cy="96.2" r="2.6" fill="#00B050"/>
<circle cx="491.63" cy="98.3" r="2.6" fill="#00B050"/>
<circle cx="497.22" cy="99.5" r="2.6" fill="#00B050"/>
<circle cx="502.81" cy="99.5" r="2.6" fill="#00B050"/>
<circle cx="508.4" cy="99.2" r="2.6" fill="#00B050"/>
<circle cx="514" cy="101.4" r="2.6" fill="#00B050"/>
<circle cx="519.59" cy="104" r="2.6" fill="#00B050"/>
<circle cx="525.18" cy="103.4" r="2.6" fill="#00B050"/>
<circle cx="530.77" cy="102.6" r="2.6" fill="#00B050"/>
<circle cx="536.36" cy="102.2" r="2.6" fill="#00B050"/>
<circle cx="541.95" cy="102.2" r="2.6" fill="#00B050"/>
<circle cx="547.54" cy="102.2" r="2.6" fill="#00B050"/>
<circle cx="553.14" cy="101.7" r="2.6" fill="#00B050"/>
<circle cx="558.73" cy="101" r="2.6" fill="#00B050"/>
<circle cx="564.32" cy="100.5" r="2.6" fill="#00B050"/>
<circle cx="569.91" cy="101.5" r="2.6" fill="#00B050"/>
<circle cx="575.5" cy="103.8" r="2.6" fill="#00B050"/>
<circle cx="581.09" cy="104.1" r="2.6" fill="#00B050"/>
<circle cx="586.69" cy="104.5" r="2.6" fill="#00B050"/>
<circle cx="592.28" cy="103.8" r="2.6" fill="#00B050"/>
<circle cx="597.87" cy="104.1" r="2.6" fill="#00B050"/>
<circle cx="603.46" cy="105.9" r="2.6" fill="#00B050"/>
<circle cx="609.05" cy="102.8" r="2.6" fill="#00B050"/>
<circle cx="614.64" cy="102.4" r="2.6" fill="#00B050"/>
<circle cx="620.23" cy="103" r="2.6" fill="#00B050"/>
<circle cx="625.83" cy="103.3" r="2.6" fill="#00B050"/>
<circle cx="631.42" cy="103.3" r="2.6" fill="#00B050"/>
<circle cx="637.01" cy="102.4" r="2.6" fill="#00B050"/>
<circle cx="642.6" cy="102.1" r="2.6" fill="#00B050"/>
<path d="M379.8 18.6V27.2M377.6 18.6H382M377.6 27.2H382" stroke="#5b7bbd" stroke-width="1" fill="none"/>
<path d="M388.28 22.7V30.1M386.08 22.7H390.48M386.08 30.1H390.48" stroke="#5b7bbd" stroke-width="1" fill="none"/>
<path d="M396.75 23V32.2M394.55 23H398.95M394.55 32.2H398.95" stroke="#5b7bbd" stroke-width="1" fill="none"/>
<path d="M405.23 26.2V34.4M403.03 26.2H407.43M403.03 34.4H407.43" stroke="#5b7bbd" stroke-width="1" fill="none"/>
<path d="M413.71 31.9V38.7M411.51 31.9H415.91M411.51 38.7H415.91" stroke="#5b7bbd" stroke-width="1" fill="none"/>
<path d="M422.19 39.2V45.2M419.99 39.2H424.39M419.99 45.2H424.39" stroke="#5b7bbd" stroke-width="1" fill="none"/>
<path d="M430.66 47.9V53.1M428.46 47.9H432.86M428.46 53.1H432.86" stroke="#5b7bbd" stroke-width="1" fill="none"/>
<path d="M439.14 58.9V64.1M436.94 58.9H441.34M436.94 64.1H441.34" stroke="#5b7bbd" stroke-width="1" fill="none"/>
<path d="M447.62 70.3V75.3M445.42 70.3H449.82M445.42 75.3H449.82" stroke="#5b7bbd" stroke-width="1" fill="none"/>
<path d="M456.1 78.6V84.6M453.9 78.6H458.3M453.9 84.6H458.3" stroke="#5b7bbd" stroke-width="1" fill="none"/>
<path d="M464.57 87.1V96.3M462.37 87.1H466.77M462.37 96.3H466.77" stroke="#5b7bbd" stroke-width="1" fill="none"/>
<path d="M473.05 97.8V109M470.85 97.8H475.25M470.85 109H475.25" stroke="#5b7bbd" stroke-width="1" fill="none"/>
<path d="M481.53 103.8V116.8M479.33 103.8H483.73M479.33 116.8H483.73" stroke="#5b7bbd" stroke-width="1" fill="none"/>
<path d="M490.01 109.2V121.2M487.81 109.2H492.21M487.81 121.2H492.21" stroke="#5b7bbd" stroke-width="1" fill="none"/>
<path d="M498.48 110.7V127.9M496.28 110.7H500.68M496.28 127.9H500.68" stroke="#5b7bbd" stroke-width="1" fill="none"/>
<path d="M506.96 114.3V131.5M504.76 114.3H509.16M504.76 131.5H509.16" stroke="#5b7bbd" stroke-width="1" fill="none"/>
<path d="M515.44 116.1V133.5M513.24 116.1H517.64M513.24 133.5H517.64" stroke="#5b7bbd" stroke-width="1" fill="none"/>
<path d="M523.92 119.2V132M521.72 119.2H526.12M521.72 132H526.12" stroke="#5b7bbd" stroke-width="1" fill="none"/>
<path d="M532.39 121.8V134.4M530.19 121.8H534.59M530.19 134.4H534.59" stroke="#5b7bbd" stroke-width="1" fill="none"/>
<path d="M540.87 123.6V138.4M538.67 123.6H543.07M538.67 138.4H543.07" stroke="#5b7bbd" stroke-width="1" fill="none"/>
<path d="M549.35 125V140.6M547.15 125H551.55M547.15 140.6H551.55" stroke="#5b7bbd" stroke-width="1" fill="none"/>
<path d="M557.83 127.2V143.2M555.63 127.2H560.03M555.63 143.2H560.03" stroke="#5b7bbd" stroke-width="1" fill="none"/>
<path d="M566.3 127.2V145M564.1 127.2H568.5M564.1 145H568.5" stroke="#5b7bbd" stroke-width="1" fill="none"/>
<path d="M574.78 129.6V145.8M572.58 129.6H576.98M572.58 145.8H576.98" stroke="#5b7bbd" stroke-width="1" fill="none"/>
<path d="M583.26 129.6V145.2M581.06 129.6H585.46M581.06 145.2H585.46" stroke="#5b7bbd" stroke-width="1" fill="none"/>
<path d="M591.74 129.5V143.7M589.54 129.5H593.94M589.54 143.7H593.94" stroke="#5b7bbd" stroke-width="1" fill="none"/>
<path d="M600.21 129.9V144.9M598.01 129.9H602.41M598.01 144.9H602.41" stroke="#5b7bbd" stroke-width="1" fill="none"/>
<path d="M608.69 130.4V145.2M606.49 130.4H610.89M606.49 145.2H610.89" stroke="#5b7bbd" stroke-width="1" fill="none"/>
<path d="M617.17 131.2V145M614.97 131.2H619.37M614.97 145H619.37" stroke="#5b7bbd" stroke-width="1" fill="none"/>
<path d="M625.65 131.5V145.7M623.45 131.5H627.85M623.45 145.7H627.85" stroke="#5b7bbd" stroke-width="1" fill="none"/>
<path d="M634.12 130.8V145.4M631.92 130.8H636.32M631.92 145.4H636.32" stroke="#5b7bbd" stroke-width="1" fill="none"/>
<path d="M642.6 132.3V144.9M640.4 132.3H644.8M640.4 144.9H644.8" stroke="#5b7bbd" stroke-width="1" fill="none"/>
<polyline points="379.8,22.9 388.28,26.4 396.75,27.6 405.23,30.3 413.71,35.3 422.19,42.2 430.66,50.5 439.14,61.5 447.62,72.8 456.1,81.6 464.57,91.7 473.05,103.4 481.53,110.3 490.01,115.2 498.48,119.3 506.96,122.9 515.44,124.8 523.92,125.6 532.39,128.1 540.87,131 549.35,132.8 557.83,135.2 566.3,136.1 574.78,137.7 583.26,137.4 591.74,136.6 600.21,137.4 608.69,137.8 617.17,138.1 625.65,138.6 634.12,138.1 642.6,138.6" fill="none" stroke="#2C53A1" stroke-width="2" stroke-linejoin="round"/>
<circle cx="379.8" cy="22.9" r="2.7" fill="#2C53A1"/>
<circle cx="388.28" cy="26.4" r="2.7" fill="#2C53A1"/>
<circle cx="396.75" cy="27.6" r="2.7" fill="#2C53A1"/>
<circle cx="405.23" cy="30.3" r="2.7" fill="#2C53A1"/>
<circle cx="413.71" cy="35.3" r="2.7" fill="#2C53A1"/>
<circle cx="422.19" cy="42.2" r="2.7" fill="#2C53A1"/>
<circle cx="430.66" cy="50.5" r="2.7" fill="#2C53A1"/>
<circle cx="439.14" cy="61.5" r="2.7" fill="#2C53A1"/>
<circle cx="447.62" cy="72.8" r="2.7" fill="#2C53A1"/>
<circle cx="456.1" cy="81.6" r="2.7" fill="#2C53A1"/>
<circle cx="464.57" cy="91.7" r="2.7" fill="#2C53A1"/>
<circle cx="473.05" cy="103.4" r="2.7" fill="#2C53A1"/>
<circle cx="481.53" cy="110.3" r="2.7" fill="#2C53A1"/>
<circle cx="490.01" cy="115.2" r="2.7" fill="#2C53A1"/>
<circle cx="498.48" cy="119.3" r="2.7" fill="#2C53A1"/>
<circle cx="506.96" cy="122.9" r="2.7" fill="#2C53A1"/>
<circle cx="515.44" cy="124.8" r="2.7" fill="#2C53A1"/>
<circle cx="523.92" cy="125.6" r="2.7" fill="#2C53A1"/>
<circle cx="532.39" cy="128.1" r="2.7" fill="#2C53A1"/>
<circle cx="540.87" cy="131" r="2.7" fill="#2C53A1"/>
<circle cx="549.35" cy="132.8" r="2.7" fill="#2C53A1"/>
<circle cx="557.83" cy="135.2" r="2.7" fill="#2C53A1"/>
<circle cx="566.3" cy="136.1" r="2.7" fill="#2C53A1"/>
<circle cx="574.78" cy="137.7" r="2.7" fill="#2C53A1"/>
<circle cx="583.26" cy="137.4" r="2.7" fill="#2C53A1"/>
<circle cx="591.74" cy="136.6" r="2.7" fill="#2C53A1"/>
<circle cx="600.21" cy="137.4" r="2.7" fill="#2C53A1"/>
<circle cx="608.69" cy="137.8" r="2.7" fill="#2C53A1"/>
<circle cx="617.17" cy="138.1" r="2.7" fill="#2C53A1"/>
<circle cx="625.65" cy="138.6" r="2.7" fill="#2C53A1"/>
<circle cx="634.12" cy="138.1" r="2.7" fill="#2C53A1"/>
<circle cx="642.6" cy="138.6" r="2.7" fill="#2C53A1"/>
<line x1="456.3" y1="150.6" x2="456.3" y2="156" stroke="#00B050" stroke-width="1" opacity="0.55"/>
<path d="M453.5 155.5H459.1L456.3 161.4Z" fill="#00B050"/>
<line x1="489.5" y1="151.8" x2="489.5" y2="156" stroke="#2C53A1" stroke-width="1" opacity="0.55"/>
<path d="M486.75 155.5H492.25L489.5 161.4Z" fill="#2C53A1"/>
<text x="388.7" y="12.9" font-size="10.5" font-weight="bold" fill="#111" textLength="14" lengthAdjust="spacingAndGlyphs">(b)</text>
<text x="493.3" y="14.6" font-size="8.8" font-weight="bold" fill="#111" textLength="68" lengthAdjust="spacingAndGlyphs">Mt Grand pH 6.3</text>
<text x="449.9" y="188.6" font-size="8.9" fill="#222" textLength="124" lengthAdjust="spacingAndGlyphs">Distance from root center (mm)</text>
<text transform="translate(358.3,84.5) rotate(-90)" text-anchor="middle" font-size="9.0" fill="#00B050" textLength="74" lengthAdjust="spacingAndGlyphs">P flux ( pg cm<tspan font-size="5.58" dy="-3.42">-2</tspan><tspan dy="3.42"> s</tspan><tspan font-size="5.58" dy="-3.42">-1</tspan><tspan dy="3.42">)</tspan></text>
<text transform="translate(672.8,85.15) rotate(-90)" text-anchor="middle" font-size="8.9" fill="#2C53A1" textLength="109.7" lengthAdjust="spacingAndGlyphs">Acid phosphomonoesterase</text>
<text transform="translate(683,85.3) rotate(-90)" text-anchor="middle" font-size="8.9" fill="#2C53A1" textLength="63" lengthAdjust="spacingAndGlyphs">(pmol mm<tspan font-size="5.52" dy="-3.38">-2</tspan><tspan dy="3.38"> h</tspan><tspan font-size="5.52" dy="-3.38">-1</tspan><tspan dy="3.38">)</tspan></text>
</g>
<g id="pc">
<line x1="93.4" y1="218.7" x2="93.4" y2="374" stroke="#b8b8b8" stroke-width="1.3"/>
<line x1="33.9" y1="218.7" x2="33.9" y2="374" stroke="#606060" stroke-width="1.6"/>
<line x1="286.9" y1="218.7" x2="286.9" y2="374" stroke="#8a8a8a" stroke-width="1.8"/>
<line x1="30.7" y1="374" x2="33.9" y2="374" stroke="#404040" stroke-width="1"/>
<text transform="translate(26,377.6) scale(1,1.08)" text-anchor="end" font-size="9.9" fill="#00B050">6</text>
<line x1="30.7" y1="356.74" x2="33.9" y2="356.74" stroke="#404040" stroke-width="1"/>
<text transform="translate(26,360.34) scale(1,1.08)" text-anchor="end" font-size="9.9" fill="#00B050">7</text>
<line x1="30.7" y1="339.49" x2="33.9" y2="339.49" stroke="#404040" stroke-width="1"/>
<text transform="translate(26,343.09) scale(1,1.08)" text-anchor="end" font-size="9.9" fill="#00B050">8</text>
<line x1="30.7" y1="322.23" x2="33.9" y2="322.23" stroke="#404040" stroke-width="1"/>
<text transform="translate(26,325.83) scale(1,1.08)" text-anchor="end" font-size="9.9" fill="#00B050">9</text>
<line x1="30.7" y1="304.98" x2="33.9" y2="304.98" stroke="#404040" stroke-width="1"/>
<text transform="translate(26,308.58) scale(1,1.08)" text-anchor="end" font-size="9.9" fill="#00B050">10</text>
<line x1="30.7" y1="287.72" x2="33.9" y2="287.72" stroke="#404040" stroke-width="1"/>
<text transform="translate(26,291.32) scale(1,1.08)" text-anchor="end" font-size="9.9" fill="#00B050">11</text>
<line x1="30.7" y1="270.47" x2="33.9" y2="270.47" stroke="#404040" stroke-width="1"/>
<text transform="translate(26,274.07) scale(1,1.08)" text-anchor="end" font-size="9.9" fill="#00B050">12</text>
<line x1="30.7" y1="253.21" x2="33.9" y2="253.21" stroke="#404040" stroke-width="1"/>
<text transform="translate(26,256.81) scale(1,1.08)" text-anchor="end" font-size="9.9" fill="#00B050">13</text>
<line x1="30.7" y1="235.96" x2="33.9" y2="235.96" stroke="#404040" stroke-width="1"/>
<text transform="translate(26,239.56) scale(1,1.08)" text-anchor="end" font-size="9.9" fill="#00B050">14</text>
<line x1="30.7" y1="218.7" x2="33.9" y2="218.7" stroke="#404040" stroke-width="1"/>
<text transform="translate(26,222.3) scale(1,1.08)" text-anchor="end" font-size="9.9" fill="#00B050">15</text>
<line x1="286.9" y1="374" x2="290.1" y2="374" stroke="#404040" stroke-width="1"/>
<text transform="translate(296,377.6) scale(1,1.08)" font-size="9.9" fill="#2C53A1">10</text>
<line x1="286.9" y1="348.12" x2="290.1" y2="348.12" stroke="#404040" stroke-width="1"/>
<text transform="translate(296,351.72) scale(1,1.08)" font-size="9.9" fill="#2C53A1">15</text>
<line x1="286.9" y1="322.23" x2="290.1" y2="322.23" stroke="#404040" stroke-width="1"/>
<text transform="translate(296,325.83) scale(1,1.08)" font-size="9.9" fill="#2C53A1">20</text>
<line x1="286.9" y1="296.35" x2="290.1" y2="296.35" stroke="#404040" stroke-width="1"/>
<text transform="translate(296,299.95) scale(1,1.08)" font-size="9.9" fill="#2C53A1">25</text>
<line x1="286.9" y1="270.47" x2="290.1" y2="270.47" stroke="#404040" stroke-width="1"/>
<text transform="translate(296,274.07) scale(1,1.08)" font-size="9.9" fill="#2C53A1">30</text>
<line x1="286.9" y1="244.58" x2="290.1" y2="244.58" stroke="#404040" stroke-width="1"/>
<text transform="translate(296,248.18) scale(1,1.08)" font-size="9.9" fill="#2C53A1">35</text>
<line x1="286.9" y1="218.7" x2="290.1" y2="218.7" stroke="#404040" stroke-width="1"/>
<text transform="translate(296,222.3) scale(1,1.08)" font-size="9.9" fill="#2C53A1">40</text>
<line x1="30.9" y1="374" x2="289.9" y2="374" stroke="#262626" stroke-width="1.3"/>
<line x1="33.9" y1="374" x2="33.9" y2="377" stroke="#404040" stroke-width="1"/>
<text transform="translate(33.9,389.2) scale(1,1.08)" text-anchor="middle" font-size="9.9" fill="#3c3c3c">0</text>
<line x1="59.2" y1="374" x2="59.2" y2="377" stroke="#404040" stroke-width="1"/>
<text transform="translate(59.2,389.2) scale(1,1.08)" text-anchor="middle" font-size="9.9" fill="#3c3c3c">0.2</text>
<line x1="84.5" y1="374" x2="84.5" y2="377" stroke="#404040" stroke-width="1"/>
<text transform="translate(84.5,389.2) scale(1,1.08)" text-anchor="middle" font-size="9.9" fill="#3c3c3c">0.4</text>
<line x1="109.8" y1="374" x2="109.8" y2="377" stroke="#404040" stroke-width="1"/>
<text transform="translate(109.8,389.2) scale(1,1.08)" text-anchor="middle" font-size="9.9" fill="#3c3c3c">0.6</text>
<line x1="135.1" y1="374" x2="135.1" y2="377" stroke="#404040" stroke-width="1"/>
<text transform="translate(135.1,389.2) scale(1,1.08)" text-anchor="middle" font-size="9.9" fill="#3c3c3c">0.8</text>
<line x1="160.4" y1="374" x2="160.4" y2="377" stroke="#404040" stroke-width="1"/>
<text transform="translate(160.4,389.2) scale(1,1.08)" text-anchor="middle" font-size="9.9" fill="#3c3c3c">1</text>
<line x1="185.7" y1="374" x2="185.7" y2="377" stroke="#404040" stroke-width="1"/>
<text transform="translate(185.7,389.2) scale(1,1.08)" text-anchor="middle" font-size="9.9" fill="#3c3c3c">1.2</text>
<line x1="211" y1="374" x2="211" y2="377" stroke="#404040" stroke-width="1"/>
<text transform="translate(211,389.2) scale(1,1.08)" text-anchor="middle" font-size="9.9" fill="#3c3c3c">1.4</text>
<line x1="236.3" y1="374" x2="236.3" y2="377" stroke="#404040" stroke-width="1"/>
<text transform="translate(236.3,389.2) scale(1,1.08)" text-anchor="middle" font-size="9.9" fill="#3c3c3c">1.6</text>
<line x1="261.6" y1="374" x2="261.6" y2="377" stroke="#404040" stroke-width="1"/>
<text transform="translate(261.6,389.2) scale(1,1.08)" text-anchor="middle" font-size="9.9" fill="#3c3c3c">1.8</text>
<line x1="286.9" y1="374" x2="286.9" y2="377" stroke="#404040" stroke-width="1"/>
<text transform="translate(286.9,389.2) scale(1,1.08)" text-anchor="middle" font-size="9.9" fill="#3c3c3c">2</text>
<path d="M33.8 300V328M31.6 300H36M31.6 328H36" stroke="#3cc27a" stroke-width="1" fill="none"/>
<path d="M39.16 299.7V328.3M36.96 299.7H41.36M36.96 328.3H41.36" stroke="#3cc27a" stroke-width="1" fill="none"/>
<path d="M44.51 299.5V328.5M42.31 299.5H46.71M42.31 328.5H46.71" stroke="#3cc27a" stroke-width="1" fill="none"/>
<path d="M49.87 299.2V328.8M47.67 299.2H52.07M47.67 328.8H52.07" stroke="#3cc27a" stroke-width="1" fill="none"/>
<path d="M55.22 298.5V328.3M53.02 298.5H57.42M53.02 328.3H57.42" stroke="#3cc27a" stroke-width="1" fill="none"/>
<path d="M60.58 297.8V327.8M58.38 297.8H62.78M58.38 327.8H62.78" stroke="#3cc27a" stroke-width="1" fill="none"/>
<path d="M65.93 296.8V327M63.73 296.8H68.13M63.73 327H68.13" stroke="#3cc27a" stroke-width="1" fill="none"/>
<path d="M71.29 296.2V326.6M69.09 296.2H73.49M69.09 326.6H73.49" stroke="#3cc27a" stroke-width="1" fill="none"/>
<path d="M76.64 295.6V326.2M74.44 295.6H78.84M74.44 326.2H78.84" stroke="#3cc27a" stroke-width="1" fill="none"/>
<path d="M82 294.6V325.4M79.8 294.6H84.2M79.8 325.4H84.2" stroke="#3cc27a" stroke-width="1" fill="none"/>
<path d="M87.35 294.2V325.2M85.15 294.2H89.55M85.15 325.2H89.55" stroke="#3cc27a" stroke-width="1" fill="none"/>
<path d="M92.71 293.8V324.8M90.51 293.8H94.91M90.51 324.8H94.91" stroke="#3cc27a" stroke-width="1" fill="none"/>
<path d="M98.06 293.1V324.5M95.86 293.1H100.26M95.86 324.5H100.26" stroke="#3cc27a" stroke-width="1" fill="none"/>
<path d="M103.42 292V323.8M101.22 292H105.62M101.22 323.8H105.62" stroke="#3cc27a" stroke-width="1" fill="none"/>
<path d="M108.77 290.1V322.3M106.57 290.1H110.97M106.57 322.3H110.97" stroke="#3cc27a" stroke-width="1" fill="none"/>
<path d="M114.13 289.2V321.4M111.93 289.2H116.33M111.93 321.4H116.33" stroke="#3cc27a" stroke-width="1" fill="none"/>
<path d="M119.49 288.6V320.4M117.29 288.6H121.69M117.29 320.4H121.69" stroke="#3cc27a" stroke-width="1" fill="none"/>
<path d="M124.84 287.7V319.1M122.64 287.7H127.04M122.64 319.1H127.04" stroke="#3cc27a" stroke-width="1" fill="none"/>
<path d="M130.2 286.9V317.5M128 286.9H132.4M128 317.5H132.4" stroke="#3cc27a" stroke-width="1" fill="none"/>
<path d="M135.55 286.5V316.3M133.35 286.5H137.75M133.35 316.3H137.75" stroke="#3cc27a" stroke-width="1" fill="none"/>
<path d="M140.91 286V315M138.71 286H143.11M138.71 315H143.11" stroke="#3cc27a" stroke-width="1" fill="none"/>
<path d="M146.26 285V313.6M144.06 285H148.46M144.06 313.6H148.46" stroke="#3cc27a" stroke-width="1" fill="none"/>
<path d="M151.62 285V313.6M149.42 285H153.82M149.42 313.6H153.82" stroke="#3cc27a" stroke-width="1" fill="none"/>
<path d="M156.97 284.4V313.2M154.77 284.4H159.17M154.77 313.2H159.17" stroke="#3cc27a" stroke-width="1" fill="none"/>
<path d="M162.33 283V312.2M160.13 283H164.53M160.13 312.2H164.53" stroke="#3cc27a" stroke-width="1" fill="none"/>
<path d="M167.68 282.7V311.7M165.48 282.7H169.88M165.48 311.7H169.88" stroke="#3cc27a" stroke-width="1" fill="none"/>
<path d="M173.04 282V310.8M170.84 282H175.24M170.84 310.8H175.24" stroke="#3cc27a" stroke-width="1" fill="none"/>
<path d="M178.39 282.1V310.7M176.19 282.1H180.59M176.19 310.7H180.59" stroke="#3cc27a" stroke-width="1" fill="none"/>
<path d="M183.75 281.7V310.3M181.55 281.7H185.95M181.55 310.3H185.95" stroke="#3cc27a" stroke-width="1" fill="none"/>
<path d="M189.1 281.2V309.8M186.9 281.2H191.3M186.9 309.8H191.3" stroke="#3cc27a" stroke-width="1" fill="none"/>
<path d="M194.46 281V310M192.26 281H196.66M192.26 310H196.66" stroke="#3cc27a" stroke-width="1" fill="none"/>
<path d="M199.81 279.6V309M197.61 279.6H202.01M197.61 309H202.01" stroke="#3cc27a" stroke-width="1" fill="none"/>
<path d="M205.17 278.9V308.7M202.97 278.9H207.37M202.97 308.7H207.37" stroke="#3cc27a" stroke-width="1" fill="none"/>
<path d="M210.53 278.3V308.3M208.33 278.3H212.73M208.33 308.3H212.73" stroke="#3cc27a" stroke-width="1" fill="none"/>
<path d="M215.88 277.5V307.7M213.68 277.5H218.08M213.68 307.7H218.08" stroke="#3cc27a" stroke-width="1" fill="none"/>
<path d="M221.24 276.6V307M219.04 276.6H223.44M219.04 307H223.44" stroke="#3cc27a" stroke-width="1" fill="none"/>
<path d="M226.59 274.7V305.3M224.39 274.7H228.79M224.39 305.3H228.79" stroke="#3cc27a" stroke-width="1" fill="none"/>
<path d="M231.95 273V303.8M229.75 273H234.15M229.75 303.8H234.15" stroke="#3cc27a" stroke-width="1" fill="none"/>
<path d="M237.3 272.1V303.1M235.1 272.1H239.5M235.1 303.1H239.5" stroke="#3cc27a" stroke-width="1" fill="none"/>
<path d="M242.66 271.4V302.8M240.46 271.4H244.86M240.46 302.8H244.86" stroke="#3cc27a" stroke-width="1" fill="none"/>
<path d="M248.01 270.1V301.7M245.81 270.1H250.21M245.81 301.7H250.21" stroke="#3cc27a" stroke-width="1" fill="none"/>
<path d="M253.37 270.1V301.7M251.17 270.1H255.57M251.17 301.7H255.57" stroke="#3cc27a" stroke-width="1" fill="none"/>
<path d="M258.72 270.3V301.5M256.52 270.3H260.92M256.52 301.5H260.92" stroke="#3cc27a" stroke-width="1" fill="none"/>
<path d="M264.08 270.4V301.4M261.88 270.4H266.28M261.88 301.4H266.28" stroke="#3cc27a" stroke-width="1" fill="none"/>
<path d="M269.43 270.6V301.2M267.23 270.6H271.63M267.23 301.2H271.63" stroke="#3cc27a" stroke-width="1" fill="none"/>
<path d="M274.79 270.8V301M272.59 270.8H276.99M272.59 301H276.99" stroke="#3cc27a" stroke-width="1" fill="none"/>
<path d="M280.14 271V300.8M277.94 271H282.34M277.94 300.8H282.34" stroke="#3cc27a" stroke-width="1" fill="none"/>
<path d="M285.5 271.1V300.7M283.3 271.1H287.7M283.3 300.7H287.7" stroke="#3cc27a" stroke-width="1" fill="none"/>
<polyline points="33.8,314 39.16,314 44.51,314 49.87,314 55.22,313.4 60.58,312.8 65.93,311.9 71.29,311.4 76.64,310.9 82,310 87.35,309.7 92.71,309.3 98.06,308.8 103.42,307.9 108.77,306.2 114.13,305.3 119.49,304.5 124.84,303.4 130.2,302.2 135.55,301.4 140.91,300.5 146.26,299.3 151.62,299.3 156.97,298.8 162.33,297.6 167.68,297.2 173.04,296.4 178.39,296.4 183.75,296 189.1,295.5 194.46,295.5 199.81,294.3 205.17,293.8 210.53,293.3 215.88,292.6 221.24,291.8 226.59,290 231.95,288.4 237.3,287.6 242.66,287.1 248.01,285.9 253.37,285.9 258.72,285.9 264.08,285.9 269.43,285.9 274.79,285.9 280.14,285.9 285.5,285.9" fill="none" stroke="#00B050" stroke-width="2" stroke-linejoin="round"/>
<circle cx="33.8" cy="314" r="2.6" fill="#00B050"/>
<circle cx="39.16" cy="314" r="2.6" fill="#00B050"/>
<circle cx="44.51" cy="314" r="2.6" fill="#00B050"/>
<circle cx="49.87" cy="314" r="2.6" fill="#00B050"/>
<circle cx="55.22" cy="313.4" r="2.6" fill="#00B050"/>
<circle cx="60.58" cy="312.8" r="2.6" fill="#00B050"/>
<circle cx="65.93" cy="311.9" r="2.6" fill="#00B050"/>
<circle cx="71.29" cy="311.4" r="2.6" fill="#00B050"/>
<circle cx="76.64" cy="310.9" r="2.6" fill="#00B050"/>
<circle cx="82" cy="310" r="2.6" fill="#00B050"/>
<circle cx="87.35" cy="309.7" r="2.6" fill="#00B050"/>
<circle cx="92.71" cy="309.3" r="2.6" fill="#00B050"/>
<circle cx="98.06" cy="308.8" r="2.6" fill="#00B050"/>
<circle cx="103.42" cy="307.9" r="2.6" fill="#00B050"/>
<circle cx="108.77" cy="306.2" r="2.6" fill="#00B050"/>
<circle cx="114.13" cy="305.3" r="2.6" fill="#00B050"/>
<circle cx="119.49" cy="304.5" r="2.6" fill="#00B050"/>
<circle cx="124.84" cy="303.4" r="2.6" fill="#00B050"/>
<circle cx="130.2" cy="302.2" r="2.6" fill="#00B050"/>
<circle cx="135.55" cy="301.4" r="2.6" fill="#00B050"/>
<circle cx="140.91" cy="300.5" r="2.6" fill="#00B050"/>
<circle cx="146.26" cy="299.3" r="2.6" fill="#00B050"/>
<circle cx="151.62" cy="299.3" r="2.6" fill="#00B050"/>
<circle cx="156.97" cy="298.8" r="2.6" fill="#00B050"/>
<circle cx="162.33" cy="297.6" r="2.6" fill="#00B050"/>
<circle cx="167.68" cy="297.2" r="2.6" fill="#00B050"/>
<circle cx="173.04" cy="296.4" r="2.6" fill="#00B050"/>
<circle cx="178.39" cy="296.4" r="2.6" fill="#00B050"/>
<circle cx="183.75" cy="296" r="2.6" fill="#00B050"/>
<circle cx="189.1" cy="295.5" r="2.6" fill="#00B050"/>
<circle cx="194.46" cy="295.5" r="2.6" fill="#00B050"/>
<circle cx="199.81" cy="294.3" r="2.6" fill="#00B050"/>
<circle cx="205.17" cy="293.8" r="2.6" fill="#00B050"/>
<circle cx="210.53" cy="293.3" r="2.6" fill="#00B050"/>
<circle cx="215.88" cy="292.6" r="2.6" fill="#00B050"/>
<circle cx="221.24" cy="291.8" r="2.6" fill="#00B050"/>
<circle cx="226.59" cy="290" r="2.6" fill="#00B050"/>
<circle cx="231.95" cy="288.4" r="2.6" fill="#00B050"/>
<circle cx="237.3" cy="287.6" r="2.6" fill="#00B050"/>
<circle cx="242.66" cy="287.1" r="2.6" fill="#00B050"/>
<circle cx="248.01" cy="285.9" r="2.6" fill="#00B050"/>
<circle cx="253.37" cy="285.9" r="2.6" fill="#00B050"/>
<circle cx="258.72" cy="285.9" r="2.6" fill="#00B050"/>
<circle cx="264.08" cy="285.9" r="2.6" fill="#00B050"/>
<circle cx="269.43" cy="285.9" r="2.6" fill="#00B050"/>
<circle cx="274.79" cy="285.9" r="2.6" fill="#00B050"/>
<circle cx="280.14" cy="285.9" r="2.6" fill="#00B050"/>
<circle cx="285.5" cy="285.9" r="2.6" fill="#00B050"/>
<path d="M33.8 230.5V240.5M31.6 230.5H36M31.6 240.5H36" stroke="#5b7bbd" stroke-width="1" fill="none"/>
<path d="M41.93 228.1V241.3M39.73 228.1H44.13M39.73 241.3H44.13" stroke="#5b7bbd" stroke-width="1" fill="none"/>
<path d="M50.06 226.4V240.4M47.86 226.4H52.26M47.86 240.4H52.26" stroke="#5b7bbd" stroke-width="1" fill="none"/>
<path d="M58.19 225.4V239.8M55.99 225.4H60.39M55.99 239.8H60.39" stroke="#5b7bbd" stroke-width="1" fill="none"/>
<path d="M66.32 226.5V239.3M64.12 226.5H68.52M64.12 239.3H68.52" stroke="#5b7bbd" stroke-width="1" fill="none"/>
<path d="M74.45 228.3V241.1M72.25 228.3H76.65M72.25 241.1H76.65" stroke="#5b7bbd" stroke-width="1" fill="none"/>
<path d="M82.57 230.2V242.6M80.37 230.2H84.77M80.37 242.6H84.77" stroke="#5b7bbd" stroke-width="1" fill="none"/>
<path d="M90.7 232.1V244.1M88.5 232.1H92.9M88.5 244.1H92.9" stroke="#5b7bbd" stroke-width="1" fill="none"/>
<path d="M98.83 235.7V246.1M96.63 235.7H101.03M96.63 246.1H101.03" stroke="#5b7bbd" stroke-width="1" fill="none"/>
<path d="M106.96 237.8V248.4M104.76 237.8H109.16M104.76 248.4H109.16" stroke="#5b7bbd" stroke-width="1" fill="none"/>
<path d="M115.09 242.1V252.7M112.89 242.1H117.29M112.89 252.7H117.29" stroke="#5b7bbd" stroke-width="1" fill="none"/>
<path d="M123.22 248V258.8M121.02 248H125.42M121.02 258.8H125.42" stroke="#5b7bbd" stroke-width="1" fill="none"/>
<path d="M131.35 251.8V266.2M129.15 251.8H133.55M129.15 266.2H133.55" stroke="#5b7bbd" stroke-width="1" fill="none"/>
<path d="M139.48 254.5V271.3M137.28 254.5H141.68M137.28 271.3H141.68" stroke="#5b7bbd" stroke-width="1" fill="none"/>
<path d="M147.61 257.4V275.4M145.41 257.4H149.81M145.41 275.4H149.81" stroke="#5b7bbd" stroke-width="1" fill="none"/>
<path d="M155.74 259.4V277.4M153.54 259.4H157.94M153.54 277.4H157.94" stroke="#5b7bbd" stroke-width="1" fill="none"/>
<path d="M163.86 261.9V278.7M161.66 261.9H166.06M161.66 278.7H166.06" stroke="#5b7bbd" stroke-width="1" fill="none"/>
<path d="M171.99 263.3V280.9M169.79 263.3H174.19M169.79 280.9H174.19" stroke="#5b7bbd" stroke-width="1" fill="none"/>
<path d="M180.12 266.9V284.1M177.92 266.9H182.32M177.92 284.1H182.32" stroke="#5b7bbd" stroke-width="1" fill="none"/>
<path d="M188.25 268.1V287.1M186.05 268.1H190.45M186.05 287.1H190.45" stroke="#5b7bbd" stroke-width="1" fill="none"/>
<path d="M196.38 271V293.4M194.18 271H198.58M194.18 293.4H198.58" stroke="#5b7bbd" stroke-width="1" fill="none"/>
<path d="M204.51 273.3V297.3M202.31 273.3H206.71M202.31 297.3H206.71" stroke="#5b7bbd" stroke-width="1" fill="none"/>
<path d="M212.64 276V302.6M210.44 276H214.84M210.44 302.6H214.84" stroke="#5b7bbd" stroke-width="1" fill="none"/>
<path d="M220.77 278.6V305.2M218.57 278.6H222.97M218.57 305.2H222.97" stroke="#5b7bbd" stroke-width="1" fill="none"/>
<path d="M228.9 282.2V308M226.7 282.2H231.1M226.7 308H231.1" stroke="#5b7bbd" stroke-width="1" fill="none"/>
<path d="M237.03 283.3V309.1M234.83 283.3H239.23M234.83 309.1H239.23" stroke="#5b7bbd" stroke-width="1" fill="none"/>
<path d="M245.15 285.2V310M242.95 285.2H247.35M242.95 310H247.35" stroke="#5b7bbd" stroke-width="1" fill="none"/>
<path d="M253.28 289.9V312.9M251.08 289.9H255.48M251.08 312.9H255.48" stroke="#5b7bbd" stroke-width="1" fill="none"/>
<path d="M261.41 297.2V316.6M259.21 297.2H263.61M259.21 316.6H263.61" stroke="#5b7bbd" stroke-width="1" fill="none"/>
<path d="M269.54 305.4V321.4M267.34 305.4H271.74M267.34 321.4H271.74" stroke="#5b7bbd" stroke-width="1" fill="none"/>
<path d="M277.67 310V323.2M275.47 310H279.87M275.47 323.2H279.87" stroke="#5b7bbd" stroke-width="1" fill="none"/>
<path d="M285.8 312V325.2M283.6 312H288M283.6 325.2H288" stroke="#5b7bbd" stroke-width="1" fill="none"/>
<polyline points="33.8,235.5 41.93,234.7 50.06,233.4 58.19,232.6 66.32,232.9 74.45,234.7 82.57,236.4 90.7,238.1 98.83,240.9 106.96,243.1 115.09,247.4 123.22,253.4 131.35,259 139.48,262.9 147.61,266.4 155.74,268.4 163.86,270.3 171.99,272.1 180.12,275.5 188.25,277.6 196.38,282.2 204.51,285.3 212.64,289.3 220.77,291.9 228.9,295.1 237.03,296.2 245.15,297.6 253.28,301.4 261.41,306.9 269.54,313.4 277.67,316.6 285.8,318.6" fill="none" stroke="#2C53A1" stroke-width="2" stroke-linejoin="round"/>
<circle cx="33.8" cy="235.5" r="2.7" fill="#2C53A1"/>
<circle cx="41.93" cy="234.7" r="2.7" fill="#2C53A1"/>
<circle cx="50.06" cy="233.4" r="2.7" fill="#2C53A1"/>
<circle cx="58.19" cy="232.6" r="2.7" fill="#2C53A1"/>
<circle cx="66.32" cy="232.9" r="2.7" fill="#2C53A1"/>
<circle cx="74.45" cy="234.7" r="2.7" fill="#2C53A1"/>
<circle cx="82.57" cy="236.4" r="2.7" fill="#2C53A1"/>
<circle cx="90.7" cy="238.1" r="2.7" fill="#2C53A1"/>
<circle cx="98.83" cy="240.9" r="2.7" fill="#2C53A1"/>
<circle cx="106.96" cy="243.1" r="2.7" fill="#2C53A1"/>
<circle cx="115.09" cy="247.4" r="2.7" fill="#2C53A1"/>
<circle cx="123.22" cy="253.4" r="2.7" fill="#2C53A1"/>
<circle cx="131.35" cy="259" r="2.7" fill="#2C53A1"/>
<circle cx="139.48" cy="262.9" r="2.7" fill="#2C53A1"/>
<circle cx="147.61" cy="266.4" r="2.7" fill="#2C53A1"/>
<circle cx="155.74" cy="268.4" r="2.7" fill="#2C53A1"/>
<circle cx="163.86" cy="270.3" r="2.7" fill="#2C53A1"/>
<circle cx="171.99" cy="272.1" r="2.7" fill="#2C53A1"/>
<circle cx="180.12" cy="275.5" r="2.7" fill="#2C53A1"/>
<circle cx="188.25" cy="277.6" r="2.7" fill="#2C53A1"/>
<circle cx="196.38" cy="282.2" r="2.7" fill="#2C53A1"/>
<circle cx="204.51" cy="285.3" r="2.7" fill="#2C53A1"/>
<circle cx="212.64" cy="289.3" r="2.7" fill="#2C53A1"/>
<circle cx="220.77" cy="291.9" r="2.7" fill="#2C53A1"/>
<circle cx="228.9" cy="295.1" r="2.7" fill="#2C53A1"/>
<circle cx="237.03" cy="296.2" r="2.7" fill="#2C53A1"/>
<circle cx="245.15" cy="297.6" r="2.7" fill="#2C53A1"/>
<circle cx="253.28" cy="301.4" r="2.7" fill="#2C53A1"/>
<circle cx="261.41" cy="306.9" r="2.7" fill="#2C53A1"/>
<circle cx="269.54" cy="313.4" r="2.7" fill="#2C53A1"/>
<circle cx="277.67" cy="316.6" r="2.7" fill="#2C53A1"/>
<circle cx="285.8" cy="318.6" r="2.7" fill="#2C53A1"/>
<line x1="156.9" y1="364" x2="156.9" y2="368.5" stroke="#00B050" stroke-width="1" opacity="0.55"/>
<path d="M153.7 368H160.1L156.9 374.1Z" fill="#00B050"/>
<line x1="287.1" y1="365" x2="287.1" y2="369.5" stroke="#2C53A1" stroke-width="1" opacity="0.55"/>
<path d="M283.95 369H290.25L287.1 374.3Z" fill="#2C53A1"/>
<text x="43.9" y="220.7" font-size="10.8" font-weight="bold" fill="#111" textLength="13.8" lengthAdjust="spacingAndGlyphs">(c)</text>
<text x="123.5" y="221.4" font-size="9.6" font-weight="bold" fill="#111" textLength="85.9" lengthAdjust="spacingAndGlyphs">Millers Flat  pH 4.7</text>
<text x="92.3" y="403.5" font-size="9.8" fill="#222" textLength="136.4" lengthAdjust="spacingAndGlyphs">Distance from root center (mm)</text>
<text transform="translate(9.2,295.75) rotate(-90)" text-anchor="middle" font-size="9.7" fill="#00B050" textLength="78.5" lengthAdjust="spacingAndGlyphs">P flux (pg cm<tspan font-size="6.01" dy="-3.69">-2</tspan><tspan dy="3.69"> s</tspan><tspan font-size="6.01" dy="-3.69">-1</tspan><tspan dy="3.69">)</tspan></text>
<text transform="translate(319.2,295.85) rotate(-90)" text-anchor="middle" font-size="9.8" fill="#2C53A1" textLength="121.1" lengthAdjust="spacingAndGlyphs">Acid phosphomonoesterase</text>
<text transform="translate(331.5,294.55) rotate(-90)" text-anchor="middle" font-size="9.8" fill="#2C53A1" textLength="66.7" lengthAdjust="spacingAndGlyphs">(pmol mm<tspan font-size="6.08" dy="-3.72">-2</tspan><tspan dy="3.72"> h</tspan><tspan font-size="6.08" dy="-3.72">-1</tspan><tspan dy="3.72">)</tspan></text>
</g>
<g id="pd">
<line x1="435.4" y1="220.1" x2="435.4" y2="375.3" stroke="#b8b8b8" stroke-width="1.3"/>
<line x1="380" y1="220.1" x2="380" y2="375.3" stroke="#8c8c8c" stroke-width="1.8"/>
<line x1="643.9" y1="220.1" x2="643.9" y2="375.3" stroke="#999999" stroke-width="1.8"/>
<line x1="376.8" y1="375.3" x2="380" y2="375.3" stroke="#404040" stroke-width="1"/>
<text transform="translate(372.9,378.9) scale(1,1.08)" text-anchor="end" font-size="9.2" fill="#00B050">6</text>
<line x1="376.8" y1="358.06" x2="380" y2="358.06" stroke="#404040" stroke-width="1"/>
<text transform="translate(372.9,361.66) scale(1,1.08)" text-anchor="end" font-size="9.2" fill="#00B050">7</text>
<line x1="376.8" y1="340.81" x2="380" y2="340.81" stroke="#404040" stroke-width="1"/>
<text transform="translate(372.9,344.41) scale(1,1.08)" text-anchor="end" font-size="9.2" fill="#00B050">8</text>
<line x1="376.8" y1="323.57" x2="380" y2="323.57" stroke="#404040" stroke-width="1"/>
<text transform="translate(372.9,327.17) scale(1,1.08)" text-anchor="end" font-size="9.2" fill="#00B050">9</text>
<line x1="376.8" y1="306.32" x2="380" y2="306.32" stroke="#404040" stroke-width="1"/>
<text transform="translate(372.9,309.92) scale(1,1.08)" text-anchor="end" font-size="9.2" fill="#00B050">10</text>
<line x1="376.8" y1="289.08" x2="380" y2="289.08" stroke="#404040" stroke-width="1"/>
<text transform="translate(372.9,292.68) scale(1,1.08)" text-anchor="end" font-size="9.2" fill="#00B050">11</text>
<line x1="376.8" y1="271.83" x2="380" y2="271.83" stroke="#404040" stroke-width="1"/>
<text transform="translate(372.9,275.43) scale(1,1.08)" text-anchor="end" font-size="9.2" fill="#00B050">12</text>
<line x1="376.8" y1="254.59" x2="380" y2="254.59" stroke="#404040" stroke-width="1"/>
<text transform="translate(372.9,258.19) scale(1,1.08)" text-anchor="end" font-size="9.2" fill="#00B050">13</text>
<line x1="376.8" y1="237.34" x2="380" y2="237.34" stroke="#404040" stroke-width="1"/>
<text transform="translate(372.9,240.94) scale(1,1.08)" text-anchor="end" font-size="9.2" fill="#00B050">14</text>
<line x1="376.8" y1="220.1" x2="380" y2="220.1" stroke="#404040" stroke-width="1"/>
<text transform="translate(372.9,223.7) scale(1,1.08)" text-anchor="end" font-size="9.2" fill="#00B050">15</text>
<line x1="643.9" y1="375.3" x2="647.1" y2="375.3" stroke="#404040" stroke-width="1"/>
<text transform="translate(651.5,378.9) scale(1,1.08)" font-size="9.2" fill="#2C53A1">10</text>
<line x1="643.9" y1="349.43" x2="647.1" y2="349.43" stroke="#404040" stroke-width="1"/>
<text transform="translate(651.5,353.03) scale(1,1.08)" font-size="9.2" fill="#2C53A1">15</text>
<line x1="643.9" y1="323.57" x2="647.1" y2="323.57" stroke="#404040" stroke-width="1"/>
<text transform="translate(651.5,327.17) scale(1,1.08)" font-size="9.2" fill="#2C53A1">20</text>
<line x1="643.9" y1="297.7" x2="647.1" y2="297.7" stroke="#404040" stroke-width="1"/>
<text transform="translate(651.5,301.3) scale(1,1.08)" font-size="9.2" fill="#2C53A1">25</text>
<line x1="643.9" y1="271.83" x2="647.1" y2="271.83" stroke="#404040" stroke-width="1"/>
<text transform="translate(651.5,275.43) scale(1,1.08)" font-size="9.2" fill="#2C53A1">30</text>
<line x1="643.9" y1="245.97" x2="647.1" y2="245.97" stroke="#404040" stroke-width="1"/>
<text transform="translate(651.5,249.57) scale(1,1.08)" font-size="9.2" fill="#2C53A1">35</text>
<line x1="643.9" y1="220.1" x2="647.1" y2="220.1" stroke="#404040" stroke-width="1"/>
<text transform="translate(651.5,223.7) scale(1,1.08)" font-size="9.2" fill="#2C53A1">40</text>
<line x1="377" y1="375.3" x2="646.9" y2="375.3" stroke="#262626" stroke-width="1.3"/>
<line x1="380" y1="375.3" x2="380" y2="378.3" stroke="#404040" stroke-width="1"/>
<text transform="translate(380,388.8) scale(1,1.08)" text-anchor="middle" font-size="9.2" fill="#3c3c3c">0</text>
<line x1="406.39" y1="375.3" x2="406.39" y2="378.3" stroke="#404040" stroke-width="1"/>
<text transform="translate(406.39,388.8) scale(1,1.08)" text-anchor="middle" font-size="9.2" fill="#3c3c3c">0.2</text>
<line x1="432.78" y1="375.3" x2="432.78" y2="378.3" stroke="#404040" stroke-width="1"/>
<text transform="translate(432.78,388.8) scale(1,1.08)" text-anchor="middle" font-size="9.2" fill="#3c3c3c">0.4</text>
<line x1="459.17" y1="375.3" x2="459.17" y2="378.3" stroke="#404040" stroke-width="1"/>
<text transform="translate(459.17,388.8) scale(1,1.08)" text-anchor="middle" font-size="9.2" fill="#3c3c3c">0.6</text>
<line x1="485.56" y1="375.3" x2="485.56" y2="378.3" stroke="#404040" stroke-width="1"/>
<text transform="translate(485.56,388.8) scale(1,1.08)" text-anchor="middle" font-size="9.2" fill="#3c3c3c">0.8</text>
<line x1="511.95" y1="375.3" x2="511.95" y2="378.3" stroke="#404040" stroke-width="1"/>
<text transform="translate(511.95,388.8) scale(1,1.08)" text-anchor="middle" font-size="9.2" fill="#3c3c3c">1</text>
<line x1="538.34" y1="375.3" x2="538.34" y2="378.3" stroke="#404040" stroke-width="1"/>
<text transform="translate(538.34,388.8) scale(1,1.08)" text-anchor="middle" font-size="9.2" fill="#3c3c3c">1.2</text>
<line x1="564.73" y1="375.3" x2="564.73" y2="378.3" stroke="#404040" stroke-width="1"/>
<text transform="translate(564.73,388.8) scale(1,1.08)" text-anchor="middle" font-size="9.2" fill="#3c3c3c">1.4</text>
<line x1="591.12" y1="375.3" x2="591.12" y2="378.3" stroke="#404040" stroke-width="1"/>
<text transform="translate(591.12,388.8) scale(1,1.08)" text-anchor="middle" font-size="9.2" fill="#3c3c3c">1.6</text>
<line x1="617.51" y1="375.3" x2="617.51" y2="378.3" stroke="#404040" stroke-width="1"/>
<text transform="translate(617.51,388.8) scale(1,1.08)" text-anchor="middle" font-size="9.2" fill="#3c3c3c">1.8</text>
<line x1="643.9" y1="375.3" x2="643.9" y2="378.3" stroke="#404040" stroke-width="1"/>
<text transform="translate(643.9,388.8) scale(1,1.08)" text-anchor="middle" font-size="9.2" fill="#3c3c3c">2</text>
<polyline points="379.9,353.4 385.49,352.2 391.07,352.5 396.66,353.4 402.25,352 407.84,351 413.42,351.6 419.01,348.5 424.6,345.8 430.19,346.6 435.77,345.5 441.36,343.2 446.95,343.4 452.53,342.9 458.12,341.5 463.71,341.5 469.3,341.4 474.88,340.8 480.47,341.4 486.06,341.4 491.64,341.1 497.23,341.4 502.82,341.8 508.41,340.8 513.99,340.8 519.58,341.1 525.17,341.1 530.76,340.3 536.34,340.8 541.93,341.1 547.52,342 553.1,340.8 558.69,340.8 564.28,340.8 569.87,340.3 575.45,338.6 581.04,337.4 586.63,336.4 592.21,336.7 597.8,337.4 603.39,338.6 608.98,339.2 614.56,339.2 620.15,336.4 625.74,338.9 631.33,340.3 636.91,340.8 642.5,340.8" fill="none" stroke="#00B050" stroke-width="2" stroke-linejoin="round"/>
<circle cx="379.9" cy="353.4" r="2.6" fill="#00B050"/>
<circle cx="385.49" cy="352.2" r="2.6" fill="#00B050"/>
<circle cx="391.07" cy="352.5" r="2.6" fill="#00B050"/>
<circle cx="396.66" cy="353.4" r="2.6" fill="#00B050"/>
<circle cx="402.25" cy="352" r="2.6" fill="#00B050"/>
<circle cx="407.84" cy="351" r="2.6" fill="#00B050"/>
<circle cx="413.42" cy="351.6" r="2.6" fill="#00B050"/>
<circle cx="419.01" cy="348.5" r="2.6" fill="#00B050"/>
<circle cx="424.6" cy="345.8" r="2.6" fill="#00B050"/>
<circle cx="430.19" cy="346.6" r="2.6" fill="#00B050"/>
<circle cx="435.77" cy="345.5" r="2.6" fill="#00B050"/>
<circle cx="441.36" cy="343.2" r="2.6" fill="#00B050"/>
<circle cx="446.95" cy="343.4" r="2.6" fill="#00B050"/>
<circle cx="452.53" cy="342.9" r="2.6" fill="#00B050"/>
<circle cx="458.12" cy="341.5" r="2.6" fill="#00B050"/>
<circle cx="463.71" cy="341.5" r="2.6" fill="#00B050"/>
<circle cx="469.3" cy="341.4" r="2.6" fill="#00B050"/>
<circle cx="474.88" cy="340.8" r="2.6" fill="#00B050"/>
<circle cx="480.47" cy="341.4" r="2.6" fill="#00B050"/>
<circle cx="486.06" cy="341.4" r="2.6" fill="#00B050"/>
<circle cx="491.64" cy="341.1" r="2.6" fill="#00B050"/>
<circle cx="497.23" cy="341.4" r="2.6" fill="#00B050"/>
<circle cx="502.82" cy="341.8" r="2.6" fill="#00B050"/>
<circle cx="508.41" cy="340.8" r="2.6" fill="#00B050"/>
<circle cx="513.99" cy="340.8" r="2.6" fill="#00B050"/>
<circle cx="519.58" cy="341.1" r="2.6" fill="#00B050"/>
<circle cx="525.17" cy="341.1" r="2.6" fill="#00B050"/>
<circle cx="530.76" cy="340.3" r="2.6" fill="#00B050"/>
<circle cx="536.34" cy="340.8" r="2.6" fill="#00B050"/>
<circle cx="541.93" cy="341.1" r="2.6" fill="#00B050"/>
<circle cx="547.52" cy="342" r="2.6" fill="#00B050"/>
<circle cx="553.1" cy="340.8" r="2.6" fill="#00B050"/>
<circle cx="558.69" cy="340.8" r="2.6" fill="#00B050"/>
<circle cx="564.28" cy="340.8" r="2.6" fill="#00B050"/>
<circle cx="569.87" cy="340.3" r="2.6" fill="#00B050"/>
<circle cx="575.45" cy="338.6" r="2.6" fill="#00B050"/>
<circle cx="581.04" cy="337.4" r="2.6" fill="#00B050"/>
<circle cx="586.63" cy="336.4" r="2.6" fill="#00B050"/>
<circle cx="592.21" cy="336.7" r="2.6" fill="#00B050"/>
<circle cx="597.8" cy="337.4" r="2.6" fill="#00B050"/>
<circle cx="603.39" cy="338.6" r="2.6" fill="#00B050"/>
<circle cx="608.98" cy="339.2" r="2.6" fill="#00B050"/>
<circle cx="614.56" cy="339.2" r="2.6" fill="#00B050"/>
<circle cx="620.15" cy="336.4" r="2.6" fill="#00B050"/>
<circle cx="625.74" cy="338.9" r="2.6" fill="#00B050"/>
<circle cx="631.33" cy="340.3" r="2.6" fill="#00B050"/>
<circle cx="636.91" cy="340.8" r="2.6" fill="#00B050"/>
<circle cx="642.5" cy="340.8" r="2.6" fill="#00B050"/>
<polyline points="380,267 388.46,267.4 396.92,267.4 405.37,268.5 413.83,273.6 422.29,280.7 430.75,288 439.21,289 447.66,287.7 456.12,286.4 464.58,286.1 473.04,290.4 481.5,292.5 489.95,294.1 498.41,295.4 506.87,294.4 515.33,295.4 523.79,294.1 532.25,293.8 540.7,294.8 549.16,296.4 557.62,300.4 566.08,303.3 574.54,305.4 582.99,304.4 591.45,304.6 599.91,304.6 608.37,305.4 616.83,304.9 625.28,303.3 633.74,302.2 642.2,302.5" fill="none" stroke="#2C53A1" stroke-width="2" stroke-linejoin="round"/>
<circle cx="380" cy="267" r="2.7" fill="#2C53A1"/>
<circle cx="388.46" cy="267.4" r="2.7" fill="#2C53A1"/>
<circle cx="396.92" cy="267.4" r="2.7" fill="#2C53A1"/>
<circle cx="405.37" cy="268.5" r="2.7" fill="#2C53A1"/>
<circle cx="413.83" cy="273.6" r="2.7" fill="#2C53A1"/>
<circle cx="422.29" cy="280.7" r="2.7" fill="#2C53A1"/>
<circle cx="430.75" cy="288" r="2.7" fill="#2C53A1"/>
<circle cx="439.21" cy="289" r="2.7" fill="#2C53A1"/>
<circle cx="447.66" cy="287.7" r="2.7" fill="#2C53A1"/>
<circle cx="456.12" cy="286.4" r="2.7" fill="#2C53A1"/>
<circle cx="464.58" cy="286.1" r="2.7" fill="#2C53A1"/>
<circle cx="473.04" cy="290.4" r="2.7" fill="#2C53A1"/>
<circle cx="481.5" cy="292.5" r="2.7" fill="#2C53A1"/>
<circle cx="489.95" cy="294.1" r="2.7" fill="#2C53A1"/>
<circle cx="498.41" cy="295.4" r="2.7" fill="#2C53A1"/>
<circle cx="506.87" cy="294.4" r="2.7" fill="#2C53A1"/>
<circle cx="515.33" cy="295.4" r="2.7" fill="#2C53A1"/>
<circle cx="523.79" cy="294.1" r="2.7" fill="#2C53A1"/>
<circle cx="532.25" cy="293.8" r="2.7" fill="#2C53A1"/>
<circle cx="540.7" cy="294.8" r="2.7" fill="#2C53A1"/>
<circle cx="549.16" cy="296.4" r="2.7" fill="#2C53A1"/>
<circle cx="557.62" cy="300.4" r="2.7" fill="#2C53A1"/>
<circle cx="566.08" cy="303.3" r="2.7" fill="#2C53A1"/>
<circle cx="574.54" cy="305.4" r="2.7" fill="#2C53A1"/>
<circle cx="582.99" cy="304.4" r="2.7" fill="#2C53A1"/>
<circle cx="591.45" cy="304.6" r="2.7" fill="#2C53A1"/>
<circle cx="599.91" cy="304.6" r="2.7" fill="#2C53A1"/>
<circle cx="608.37" cy="305.4" r="2.7" fill="#2C53A1"/>
<circle cx="616.83" cy="304.9" r="2.7" fill="#2C53A1"/>
<circle cx="625.28" cy="303.3" r="2.7" fill="#2C53A1"/>
<circle cx="633.74" cy="302.2" r="2.7" fill="#2C53A1"/>
<circle cx="642.2" cy="302.5" r="2.7" fill="#2C53A1"/>
<line x1="435.4" y1="364.5" x2="435.4" y2="369.8" stroke="#00B050" stroke-width="1" opacity="0.55"/>
<path d="M432.6 369.3H438.2L435.4 375.2Z" fill="#00B050"/>
<line x1="560" y1="366" x2="560" y2="370.2" stroke="#2C53A1" stroke-width="1" opacity="0.55"/>
<path d="M556.9 369.7H563.1L560 375.2Z" fill="#2C53A1"/>
<text x="384.5" y="223.9" font-size="10.0" font-weight="bold" fill="#111" textLength="12.9" lengthAdjust="spacingAndGlyphs">(d)</text>
<text x="485.8" y="224.7" font-size="8.85" font-weight="bold" fill="#111" textLength="76.2" lengthAdjust="spacingAndGlyphs">Millers Flat pH 6.3</text>
<text x="449.9" y="401.7" font-size="8.9" fill="#222" textLength="124.7" lengthAdjust="spacingAndGlyphs">Distance from root center (mm)</text>
<text transform="translate(357.4,297.2) rotate(-90)" text-anchor="middle" font-size="9.0" fill="#00B050" textLength="72.2" lengthAdjust="spacingAndGlyphs">P flux (pg cm<tspan font-size="5.58" dy="-3.42">-2</tspan><tspan dy="3.42"> s</tspan><tspan font-size="5.58" dy="-3.42">-1</tspan><tspan dy="3.42">)</tspan></text>
<text transform="translate(672.6,297.5) rotate(-90)" text-anchor="middle" font-size="8.9" fill="#2C53A1" textLength="108.8" lengthAdjust="spacingAndGlyphs">Acid phosphomonoesterase</text>
<text transform="translate(683,296.9) rotate(-90)" text-anchor="middle" font-size="8.9" fill="#2C53A1" textLength="61.8" lengthAdjust="spacingAndGlyphs">(pmol mm<tspan font-size="5.52" dy="-3.38">-2</tspan><tspan dy="3.38"> h</tspan><tspan font-size="5.52" dy="-3.38">-1</tspan><tspan dy="3.38">)</tspan></text>
</g>
</svg>
</body></html>
